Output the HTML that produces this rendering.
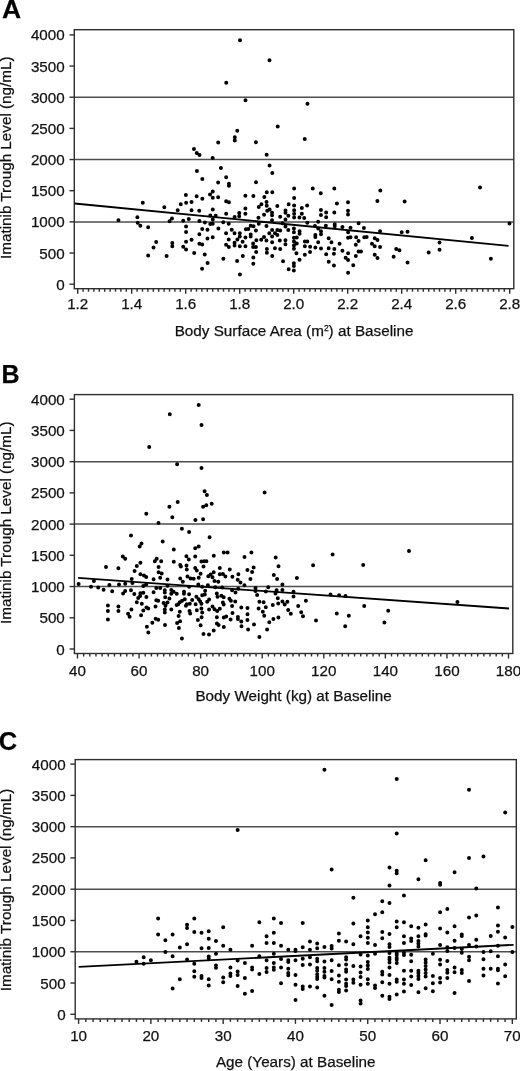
<!DOCTYPE html>
<html><head><meta charset="utf-8"><style>
html,body{margin:0;padding:0;background:#fff;width:520px;height:1071px;overflow:hidden}
svg{display:block;will-change:transform}
text{font-family:"Liberation Sans",sans-serif;font-size:15.25px;fill:#111;stroke:#111;stroke-width:0.25}
.t{font-size:15.2px}
.L{font-weight:bold;font-size:24.5px;fill:#000}
.a{stroke:#2e2e2e;stroke-width:1.4;fill:none}
.g{stroke:#4d4d4d;stroke-width:1.5}
.r{stroke:#000;stroke-width:1.8}
.d{fill:#000}
</style></head><body>
<svg width="520" height="1071" viewBox="0 0 520 1071">
<line x1="74.3" y1="221.88" x2="513.8" y2="221.88" class="g"/>
<line x1="74.3" y1="159.55" x2="513.8" y2="159.55" class="g"/>
<line x1="74.3" y1="97.22" x2="513.8" y2="97.22" class="g"/>
<line x1="69.5" y1="284.2" x2="74.3" y2="284.2" class="a"/>
<text x="64.7" y="289.7" text-anchor="end" class="t">0</text>
<line x1="69.5" y1="253.04" x2="74.3" y2="253.04" class="a"/>
<text x="64.7" y="258.54" text-anchor="end" class="t">500</text>
<line x1="69.5" y1="221.88" x2="74.3" y2="221.88" class="a"/>
<text x="64.7" y="227.38" text-anchor="end" class="t">1000</text>
<line x1="69.5" y1="190.71" x2="74.3" y2="190.71" class="a"/>
<text x="64.7" y="196.21" text-anchor="end" class="t">1500</text>
<line x1="69.5" y1="159.55" x2="74.3" y2="159.55" class="a"/>
<text x="64.7" y="165.05" text-anchor="end" class="t">2000</text>
<line x1="69.5" y1="128.39" x2="74.3" y2="128.39" class="a"/>
<text x="64.7" y="133.89" text-anchor="end" class="t">2500</text>
<line x1="69.5" y1="97.22" x2="74.3" y2="97.22" class="a"/>
<text x="64.7" y="102.72" text-anchor="end" class="t">3000</text>
<line x1="69.5" y1="66.06" x2="74.3" y2="66.06" class="a"/>
<text x="64.7" y="71.56" text-anchor="end" class="t">3500</text>
<line x1="69.5" y1="34.9" x2="74.3" y2="34.9" class="a"/>
<text x="64.7" y="40.4" text-anchor="end" class="t">4000</text>
<line x1="77.7" y1="288.7" x2="77.7" y2="293.7" class="a"/>
<line x1="83.1" y1="288.7" x2="83.1" y2="291.7" class="a"/>
<line x1="88.5" y1="288.7" x2="88.5" y2="291.7" class="a"/>
<line x1="93.9" y1="288.7" x2="93.9" y2="291.7" class="a"/>
<line x1="99.3" y1="288.7" x2="99.3" y2="291.7" class="a"/>
<line x1="104.7" y1="288.7" x2="104.7" y2="291.7" class="a"/>
<line x1="110.1" y1="288.7" x2="110.1" y2="291.7" class="a"/>
<line x1="115.5" y1="288.7" x2="115.5" y2="291.7" class="a"/>
<line x1="120.9" y1="288.7" x2="120.9" y2="291.7" class="a"/>
<line x1="126.3" y1="288.7" x2="126.3" y2="291.7" class="a"/>
<line x1="131.7" y1="288.7" x2="131.7" y2="293.7" class="a"/>
<line x1="137.1" y1="288.7" x2="137.1" y2="291.7" class="a"/>
<line x1="142.5" y1="288.7" x2="142.5" y2="291.7" class="a"/>
<line x1="147.9" y1="288.7" x2="147.9" y2="291.7" class="a"/>
<line x1="153.3" y1="288.7" x2="153.3" y2="291.7" class="a"/>
<line x1="158.7" y1="288.7" x2="158.7" y2="291.7" class="a"/>
<line x1="164.1" y1="288.7" x2="164.1" y2="291.7" class="a"/>
<line x1="169.5" y1="288.7" x2="169.5" y2="291.7" class="a"/>
<line x1="174.9" y1="288.7" x2="174.9" y2="291.7" class="a"/>
<line x1="180.3" y1="288.7" x2="180.3" y2="291.7" class="a"/>
<line x1="185.7" y1="288.7" x2="185.7" y2="293.7" class="a"/>
<line x1="191.1" y1="288.7" x2="191.1" y2="291.7" class="a"/>
<line x1="196.5" y1="288.7" x2="196.5" y2="291.7" class="a"/>
<line x1="201.9" y1="288.7" x2="201.9" y2="291.7" class="a"/>
<line x1="207.3" y1="288.7" x2="207.3" y2="291.7" class="a"/>
<line x1="212.7" y1="288.7" x2="212.7" y2="291.7" class="a"/>
<line x1="218.1" y1="288.7" x2="218.1" y2="291.7" class="a"/>
<line x1="223.5" y1="288.7" x2="223.5" y2="291.7" class="a"/>
<line x1="228.9" y1="288.7" x2="228.9" y2="291.7" class="a"/>
<line x1="234.3" y1="288.7" x2="234.3" y2="291.7" class="a"/>
<line x1="239.7" y1="288.7" x2="239.7" y2="293.7" class="a"/>
<line x1="245.1" y1="288.7" x2="245.1" y2="291.7" class="a"/>
<line x1="250.5" y1="288.7" x2="250.5" y2="291.7" class="a"/>
<line x1="255.9" y1="288.7" x2="255.9" y2="291.7" class="a"/>
<line x1="261.3" y1="288.7" x2="261.3" y2="291.7" class="a"/>
<line x1="266.7" y1="288.7" x2="266.7" y2="291.7" class="a"/>
<line x1="272.1" y1="288.7" x2="272.1" y2="291.7" class="a"/>
<line x1="277.5" y1="288.7" x2="277.5" y2="291.7" class="a"/>
<line x1="282.9" y1="288.7" x2="282.9" y2="291.7" class="a"/>
<line x1="288.3" y1="288.7" x2="288.3" y2="291.7" class="a"/>
<line x1="293.7" y1="288.7" x2="293.7" y2="293.7" class="a"/>
<line x1="299.1" y1="288.7" x2="299.1" y2="291.7" class="a"/>
<line x1="304.5" y1="288.7" x2="304.5" y2="291.7" class="a"/>
<line x1="309.9" y1="288.7" x2="309.9" y2="291.7" class="a"/>
<line x1="315.3" y1="288.7" x2="315.3" y2="291.7" class="a"/>
<line x1="320.7" y1="288.7" x2="320.7" y2="291.7" class="a"/>
<line x1="326.1" y1="288.7" x2="326.1" y2="291.7" class="a"/>
<line x1="331.5" y1="288.7" x2="331.5" y2="291.7" class="a"/>
<line x1="336.9" y1="288.7" x2="336.9" y2="291.7" class="a"/>
<line x1="342.3" y1="288.7" x2="342.3" y2="291.7" class="a"/>
<line x1="347.7" y1="288.7" x2="347.7" y2="293.7" class="a"/>
<line x1="353.1" y1="288.7" x2="353.1" y2="291.7" class="a"/>
<line x1="358.5" y1="288.7" x2="358.5" y2="291.7" class="a"/>
<line x1="363.9" y1="288.7" x2="363.9" y2="291.7" class="a"/>
<line x1="369.3" y1="288.7" x2="369.3" y2="291.7" class="a"/>
<line x1="374.7" y1="288.7" x2="374.7" y2="291.7" class="a"/>
<line x1="380.1" y1="288.7" x2="380.1" y2="291.7" class="a"/>
<line x1="385.5" y1="288.7" x2="385.5" y2="291.7" class="a"/>
<line x1="390.9" y1="288.7" x2="390.9" y2="291.7" class="a"/>
<line x1="396.3" y1="288.7" x2="396.3" y2="291.7" class="a"/>
<line x1="401.7" y1="288.7" x2="401.7" y2="293.7" class="a"/>
<line x1="407.1" y1="288.7" x2="407.1" y2="291.7" class="a"/>
<line x1="412.5" y1="288.7" x2="412.5" y2="291.7" class="a"/>
<line x1="417.9" y1="288.7" x2="417.9" y2="291.7" class="a"/>
<line x1="423.3" y1="288.7" x2="423.3" y2="291.7" class="a"/>
<line x1="428.7" y1="288.7" x2="428.7" y2="291.7" class="a"/>
<line x1="434.1" y1="288.7" x2="434.1" y2="291.7" class="a"/>
<line x1="439.5" y1="288.7" x2="439.5" y2="291.7" class="a"/>
<line x1="444.9" y1="288.7" x2="444.9" y2="291.7" class="a"/>
<line x1="450.3" y1="288.7" x2="450.3" y2="291.7" class="a"/>
<line x1="455.7" y1="288.7" x2="455.7" y2="293.7" class="a"/>
<line x1="461.1" y1="288.7" x2="461.1" y2="291.7" class="a"/>
<line x1="466.5" y1="288.7" x2="466.5" y2="291.7" class="a"/>
<line x1="471.9" y1="288.7" x2="471.9" y2="291.7" class="a"/>
<line x1="477.3" y1="288.7" x2="477.3" y2="291.7" class="a"/>
<line x1="482.7" y1="288.7" x2="482.7" y2="291.7" class="a"/>
<line x1="488.1" y1="288.7" x2="488.1" y2="291.7" class="a"/>
<line x1="493.5" y1="288.7" x2="493.5" y2="291.7" class="a"/>
<line x1="498.9" y1="288.7" x2="498.9" y2="291.7" class="a"/>
<line x1="504.3" y1="288.7" x2="504.3" y2="291.7" class="a"/>
<line x1="509.7" y1="288.7" x2="509.7" y2="293.7" class="a"/>
<text x="77.7" y="309" text-anchor="middle" class="t">1.2</text>
<text x="131.7" y="309" text-anchor="middle" class="t">1.4</text>
<text x="185.7" y="309" text-anchor="middle" class="t">1.6</text>
<text x="239.7" y="309" text-anchor="middle" class="t">1.8</text>
<text x="293.7" y="309" text-anchor="middle" class="t">2.0</text>
<text x="347.7" y="309" text-anchor="middle" class="t">2.2</text>
<text x="401.7" y="309" text-anchor="middle" class="t">2.4</text>
<text x="455.7" y="309" text-anchor="middle" class="t">2.6</text>
<text x="509.7" y="309" text-anchor="middle" class="t">2.8</text>
<rect x="74.3" y="29.7" width="439.5" height="259" class="a" fill="none"/>
<text x="294.05" y="335.8" text-anchor="middle">Body Surface Area (m<tspan font-size="8.5" dy="-4.6">2</tspan><tspan dy="4.6">)</tspan> at Baseline</text>
<text transform="translate(11,157.7) rotate(-90)" text-anchor="middle">Imatinib Trough Level (ng/mL)</text>
<text x="2" y="17.7" class="L" style="font-size:26.5px">A</text>
<line x1="74.6" y1="203.5" x2="508.5" y2="245.8" class="r"/>
<path d="M238 40.25a2 2 0 1 0 4 0a2 2 0 1 0-4 0M267.5 60.25a2 2 0 1 0 4 0a2 2 0 1 0-4 0M224.25 82.75a2 2 0 1 0 4 0a2 2 0 1 0-4 0M243.5 100.25a2 2 0 1 0 4 0a2 2 0 1 0-4 0M305.5 103.75a2 2 0 1 0 4 0a2 2 0 1 0-4 0M235.23 130.77a2 2 0 1 0 4 0a2 2 0 1 0-4 0M275.73 126.62a2 2 0 1 0 4 0a2 2 0 1 0-4 0M232.81 137.35a2 2 0 1 0 4 0a2 2 0 1 0-4 0M232.81 140.46a2 2 0 1 0 4 0a2 2 0 1 0-4 0M216.19 142.54a2 2 0 1 0 4 0a2 2 0 1 0-4 0M253.92 142.19a2 2 0 1 0 4 0a2 2 0 1 0-4 0M302.73 139.08a2 2 0 1 0 4 0a2 2 0 1 0-4 0M191.96 149.12a2 2 0 1 0 4 0a2 2 0 1 0-4 0M194.73 152.92a2 2 0 1 0 4 0a2 2 0 1 0-4 0M197.5 155a2 2 0 1 0 4 0a2 2 0 1 0-4 0M210.65 158.12a2 2 0 1 0 4 0a2 2 0 1 0-4 0M264.65 154.65a2 2 0 1 0 4 0a2 2 0 1 0-4 0M140.77 202.77a2 2 0 1 0 4 0a2 2 0 1 0-4 0M162.31 207.23a2 2 0 1 0 4 0a2 2 0 1 0-4 0M175.69 210.15a2 2 0 1 0 4 0a2 2 0 1 0-4 0M135.38 217.23a2 2 0 1 0 4 0a2 2 0 1 0-4 0M170 218.46a2 2 0 1 0 4 0a2 2 0 1 0-4 0M194.92 171.08a2 2 0 1 0 4 0a2 2 0 1 0-4 0M218.92 168a2 2 0 1 0 4 0a2 2 0 1 0-4 0M200.31 179.08a2 2 0 1 0 4 0a2 2 0 1 0-4 0M224.15 177.23a2 2 0 1 0 4 0a2 2 0 1 0-4 0M216.15 182.46a2 2 0 1 0 4 0a2 2 0 1 0-4 0M226.92 183.69a2 2 0 1 0 4 0a2 2 0 1 0-4 0M226.92 185.69a2 2 0 1 0 4 0a2 2 0 1 0-4 0M254 182.31a2 2 0 1 0 4 0a2 2 0 1 0-4 0M183.85 195.08a2 2 0 1 0 4 0a2 2 0 1 0-4 0M194.62 196.15a2 2 0 1 0 4 0a2 2 0 1 0-4 0M200.31 198.77a2 2 0 1 0 4 0a2 2 0 1 0-4 0M210.77 191.54a2 2 0 1 0 4 0a2 2 0 1 0-4 0M208 194.62a2 2 0 1 0 4 0a2 2 0 1 0-4 0M210.77 197.69a2 2 0 1 0 4 0a2 2 0 1 0-4 0M216.15 197.23a2 2 0 1 0 4 0a2 2 0 1 0-4 0M243.38 195.69a2 2 0 1 0 4 0a2 2 0 1 0-4 0M251.38 196a2 2 0 1 0 4 0a2 2 0 1 0-4 0M178.77 204.31a2 2 0 1 0 4 0a2 2 0 1 0-4 0M184.15 202.77a2 2 0 1 0 4 0a2 2 0 1 0-4 0M189.54 202a2 2 0 1 0 4 0a2 2 0 1 0-4 0M224.15 201.23a2 2 0 1 0 4 0a2 2 0 1 0-4 0M226.92 202.31a2 2 0 1 0 4 0a2 2 0 1 0-4 0M256.77 206.92a2 2 0 1 0 4 0a2 2 0 1 0-4 0M189.54 210.15a2 2 0 1 0 4 0a2 2 0 1 0-4 0M197.23 210.77a2 2 0 1 0 4 0a2 2 0 1 0-4 0M210.77 209.54a2 2 0 1 0 4 0a2 2 0 1 0-4 0M243.38 208.46a2 2 0 1 0 4 0a2 2 0 1 0-4 0M224.15 213.85a2 2 0 1 0 4 0a2 2 0 1 0-4 0M243.38 213.85a2 2 0 1 0 4 0a2 2 0 1 0-4 0M237.23 213.08a2 2 0 1 0 4 0a2 2 0 1 0-4 0M237.23 216.15a2 2 0 1 0 4 0a2 2 0 1 0-4 0M232.62 216.92a2 2 0 1 0 4 0a2 2 0 1 0-4 0M208.31 215.38a2 2 0 1 0 4 0a2 2 0 1 0-4 0M213.69 215.69a2 2 0 1 0 4 0a2 2 0 1 0-4 0M256.46 217.69a2 2 0 1 0 4 0a2 2 0 1 0-4 0M186.77 218.92a2 2 0 1 0 4 0a2 2 0 1 0-4 0M210.77 219.38a2 2 0 1 0 4 0a2 2 0 1 0-4 0M267.54 165.54a2 2 0 1 0 4 0a2 2 0 1 0-4 0M270.31 172.92a2 2 0 1 0 4 0a2 2 0 1 0-4 0M292.15 188.62a2 2 0 1 0 4 0a2 2 0 1 0-4 0M310.77 188.62a2 2 0 1 0 4 0a2 2 0 1 0-4 0M332.31 188.62a2 2 0 1 0 4 0a2 2 0 1 0-4 0M264.77 192.31a2 2 0 1 0 4 0a2 2 0 1 0-4 0M270.31 192.31a2 2 0 1 0 4 0a2 2 0 1 0-4 0M318.77 193.23a2 2 0 1 0 4 0a2 2 0 1 0-4 0M318.92 210a2 2 0 1 0 4 0a2 2 0 1 0-4 0M324.15 212.62a2 2 0 1 0 4 0a2 2 0 1 0-4 0M332.31 212.62a2 2 0 1 0 4 0a2 2 0 1 0-4 0M318.92 215.08a2 2 0 1 0 4 0a2 2 0 1 0-4 0M324.15 217.23a2 2 0 1 0 4 0a2 2 0 1 0-4 0M334.92 203.38a2 2 0 1 0 4 0a2 2 0 1 0-4 0M262.33 197.12a2 2 0 1 0 4 0a2 2 0 1 0-4 0M292.13 197.88a2 2 0 1 0 4 0a2 2 0 1 0-4 0M259.44 204.13a2 2 0 1 0 4 0a2 2 0 1 0-4 0M264.54 201.92a2 2 0 1 0 4 0a2 2 0 1 0-4 0M264.73 205.77a2 2 0 1 0 4 0a2 2 0 1 0-4 0M275.31 206.06a2 2 0 1 0 4 0a2 2 0 1 0-4 0M286.65 204.13a2 2 0 1 0 4 0a2 2 0 1 0-4 0M292.13 205.58a2 2 0 1 0 4 0a2 2 0 1 0-4 0M305.12 205.58a2 2 0 1 0 4 0a2 2 0 1 0-4 0M299.83 207.98a2 2 0 1 0 4 0a2 2 0 1 0-4 0M265.21 210.87a2 2 0 1 0 4 0a2 2 0 1 0-4 0M267.62 209.62a2 2 0 1 0 4 0a2 2 0 1 0-4 0M283.48 210.38a2 2 0 1 0 4 0a2 2 0 1 0-4 0M283.48 212.79a2 2 0 1 0 4 0a2 2 0 1 0-4 0M292.13 210.19a2 2 0 1 0 4 0a2 2 0 1 0-4 0M292.13 213.75a2 2 0 1 0 4 0a2 2 0 1 0-4 0M292.13 217.6a2 2 0 1 0 4 0a2 2 0 1 0-4 0M270.02 212.79a2 2 0 1 0 4 0a2 2 0 1 0-4 0M270.02 215.19a2 2 0 1 0 4 0a2 2 0 1 0-4 0M262.04 214.71a2 2 0 1 0 4 0a2 2 0 1 0-4 0M278.19 216.63a2 2 0 1 0 4 0a2 2 0 1 0-4 0M286.37 215.67a2 2 0 1 0 4 0a2 2 0 1 0-4 0M299.83 213.75a2 2 0 1 0 4 0a2 2 0 1 0-4 0M297.42 217.6a2 2 0 1 0 4 0a2 2 0 1 0-4 0M302.23 218.08a2 2 0 1 0 4 0a2 2 0 1 0-4 0M283.48 219.52a2 2 0 1 0 4 0a2 2 0 1 0-4 0M270.02 220.19a2 2 0 1 0 4 0a2 2 0 1 0-4 0M378.31 190.46a2 2 0 1 0 4 0a2 2 0 1 0-4 0M375.38 201.08a2 2 0 1 0 4 0a2 2 0 1 0-4 0M402.62 201.54a2 2 0 1 0 4 0a2 2 0 1 0-4 0M346 202.31a2 2 0 1 0 4 0a2 2 0 1 0-4 0M346 210.77a2 2 0 1 0 4 0a2 2 0 1 0-4 0M346 214.62a2 2 0 1 0 4 0a2 2 0 1 0-4 0M478.02 187.48a2 2 0 1 0 4 0a2 2 0 1 0-4 0M116.46 220.31a2 2 0 1 0 4 0a2 2 0 1 0-4 0M167.54 221.23a2 2 0 1 0 4 0a2 2 0 1 0-4 0M135.69 222.77a2 2 0 1 0 4 0a2 2 0 1 0-4 0M138.31 225.85a2 2 0 1 0 4 0a2 2 0 1 0-4 0M146.15 227.23a2 2 0 1 0 4 0a2 2 0 1 0-4 0M154.15 242a2 2 0 1 0 4 0a2 2 0 1 0-4 0M151.54 247.38a2 2 0 1 0 4 0a2 2 0 1 0-4 0M170.31 243.08a2 2 0 1 0 4 0a2 2 0 1 0-4 0M170.31 246.15a2 2 0 1 0 4 0a2 2 0 1 0-4 0M146.15 255.38a2 2 0 1 0 4 0a2 2 0 1 0-4 0M164.62 256a2 2 0 1 0 4 0a2 2 0 1 0-4 0M181.23 220.85a2 2 0 1 0 4 0a2 2 0 1 0-4 0M197.38 221.01a2 2 0 1 0 4 0a2 2 0 1 0-4 0M202.88 222.46a2 2 0 1 0 4 0a2 2 0 1 0-4 0M208.29 223.92a2 2 0 1 0 4 0a2 2 0 1 0-4 0M210.71 223.67a2 2 0 1 0 4 0a2 2 0 1 0-4 0M184.06 226.5a2 2 0 1 0 4 0a2 2 0 1 0-4 0M184.06 231.99a2 2 0 1 0 4 0a2 2 0 1 0-4 0M200.21 229.08a2 2 0 1 0 4 0a2 2 0 1 0-4 0M205.46 229.73a2 2 0 1 0 4 0a2 2 0 1 0-4 0M216.37 228.52a2 2 0 1 0 4 0a2 2 0 1 0-4 0M197.38 234.17a2 2 0 1 0 4 0a2 2 0 1 0-4 0M205.46 238.45a2 2 0 1 0 4 0a2 2 0 1 0-4 0M210.71 237.16a2 2 0 1 0 4 0a2 2 0 1 0-4 0M189.55 239.83a2 2 0 1 0 4 0a2 2 0 1 0-4 0M184.06 241.85a2 2 0 1 0 4 0a2 2 0 1 0-4 0M197.38 243.87a2 2 0 1 0 4 0a2 2 0 1 0-4 0M200.21 244.43a2 2 0 1 0 4 0a2 2 0 1 0-4 0M181.23 246.85a2 2 0 1 0 4 0a2 2 0 1 0-4 0M184.06 249.52a2 2 0 1 0 4 0a2 2 0 1 0-4 0M221.23 222.3a2 2 0 1 0 4 0a2 2 0 1 0-4 0M226.72 223.67a2 2 0 1 0 4 0a2 2 0 1 0-4 0M229.71 229.73a2 2 0 1 0 4 0a2 2 0 1 0-4 0M243.85 229.33a2 2 0 1 0 4 0a2 2 0 1 0-4 0M246.27 228.92a2 2 0 1 0 4 0a2 2 0 1 0-4 0M248.69 225.69a2 2 0 1 0 4 0a2 2 0 1 0-4 0M251.52 226.34a2 2 0 1 0 4 0a2 2 0 1 0-4 0M256.77 223.67a2 2 0 1 0 4 0a2 2 0 1 0-4 0M253.94 230.54a2 2 0 1 0 4 0a2 2 0 1 0-4 0M224.06 233.37a2 2 0 1 0 4 0a2 2 0 1 0-4 0M232.54 233.37a2 2 0 1 0 4 0a2 2 0 1 0-4 0M237.79 233.37a2 2 0 1 0 4 0a2 2 0 1 0-4 0M237.79 236.6a2 2 0 1 0 4 0a2 2 0 1 0-4 0M243.44 237.4a2 2 0 1 0 4 0a2 2 0 1 0-4 0M248.69 234.58a2 2 0 1 0 4 0a2 2 0 1 0-4 0M248.69 236.6a2 2 0 1 0 4 0a2 2 0 1 0-4 0M226.72 239.42a2 2 0 1 0 4 0a2 2 0 1 0-4 0M235.37 239.42a2 2 0 1 0 4 0a2 2 0 1 0-4 0M240.62 241.68a2 2 0 1 0 4 0a2 2 0 1 0-4 0M254.35 240.23a2 2 0 1 0 4 0a2 2 0 1 0-4 0M259.19 239.83a2 2 0 1 0 4 0a2 2 0 1 0-4 0M232.54 242.65a2 2 0 1 0 4 0a2 2 0 1 0-4 0M232.54 245.48a2 2 0 1 0 4 0a2 2 0 1 0-4 0M224.06 244.67a2 2 0 1 0 4 0a2 2 0 1 0-4 0M226.88 247.1a2 2 0 1 0 4 0a2 2 0 1 0-4 0M237.79 246.29a2 2 0 1 0 4 0a2 2 0 1 0-4 0M243.44 246.29a2 2 0 1 0 4 0a2 2 0 1 0-4 0M251.12 243.46a2 2 0 1 0 4 0a2 2 0 1 0-4 0M251.12 247.1a2 2 0 1 0 4 0a2 2 0 1 0-4 0M253.94 247.1a2 2 0 1 0 4 0a2 2 0 1 0-4 0M192.19 253.05a2 2 0 1 0 4 0a2 2 0 1 0-4 0M202.76 254.62a2 2 0 1 0 4 0a2 2 0 1 0-4 0M205.6 262.98a2 2 0 1 0 4 0a2 2 0 1 0-4 0M200.08 268.82a2 2 0 1 0 4 0a2 2 0 1 0-4 0M221.37 258.72a2 2 0 1 0 4 0a2 2 0 1 0-4 0M235.08 260.93a2 2 0 1 0 4 0a2 2 0 1 0-4 0M240.76 255.88a2 2 0 1 0 4 0a2 2 0 1 0-4 0M251.33 257.46a2 2 0 1 0 4 0a2 2 0 1 0-4 0M251.33 263.77a2 2 0 1 0 4 0a2 2 0 1 0-4 0M254.17 251.94a2 2 0 1 0 4 0a2 2 0 1 0-4 0M237.92 274.49a2 2 0 1 0 4 0a2 2 0 1 0-4 0M280.62 223.25a2 2 0 1 0 4 0a2 2 0 1 0-4 0M283.44 226.48a2 2 0 1 0 4 0a2 2 0 1 0-4 0M264.46 226.08a2 2 0 1 0 4 0a2 2 0 1 0-4 0M270.12 230.12a2 2 0 1 0 4 0a2 2 0 1 0-4 0M275.37 230.12a2 2 0 1 0 4 0a2 2 0 1 0-4 0M278.19 230.52a2 2 0 1 0 4 0a2 2 0 1 0-4 0M286.27 230.12a2 2 0 1 0 4 0a2 2 0 1 0-4 0M291.92 228.5a2 2 0 1 0 4 0a2 2 0 1 0-4 0M291.92 232.13a2 2 0 1 0 4 0a2 2 0 1 0-4 0M297.58 231.33a2 2 0 1 0 4 0a2 2 0 1 0-4 0M297.58 233.75a2 2 0 1 0 4 0a2 2 0 1 0-4 0M267.29 233.35a2 2 0 1 0 4 0a2 2 0 1 0-4 0M272.94 233.35a2 2 0 1 0 4 0a2 2 0 1 0-4 0M275.37 234.96a2 2 0 1 0 4 0a2 2 0 1 0-4 0M270.12 236.42a2 2 0 1 0 4 0a2 2 0 1 0-4 0M262.04 236.98a2 2 0 1 0 4 0a2 2 0 1 0-4 0M259.21 239.81a2 2 0 1 0 4 0a2 2 0 1 0-4 0M264.46 240.62a2 2 0 1 0 4 0a2 2 0 1 0-4 0M270.12 242.23a2 2 0 1 0 4 0a2 2 0 1 0-4 0M277.79 240.62a2 2 0 1 0 4 0a2 2 0 1 0-4 0M283.44 240.21a2 2 0 1 0 4 0a2 2 0 1 0-4 0M283.44 244.25a2 2 0 1 0 4 0a2 2 0 1 0-4 0M291.92 237.79a2 2 0 1 0 4 0a2 2 0 1 0-4 0M294.75 237.38a2 2 0 1 0 4 0a2 2 0 1 0-4 0M291.92 241.42a2 2 0 1 0 4 0a2 2 0 1 0-4 0M294.75 243.44a2 2 0 1 0 4 0a2 2 0 1 0-4 0M291.92 245.46a2 2 0 1 0 4 0a2 2 0 1 0-4 0M291.92 248.69a2 2 0 1 0 4 0a2 2 0 1 0-4 0M264.87 249.1a2 2 0 1 0 4 0a2 2 0 1 0-4 0M272.94 248.29a2 2 0 1 0 4 0a2 2 0 1 0-4 0M278.19 249.1a2 2 0 1 0 4 0a2 2 0 1 0-4 0M316.17 221.63a2 2 0 1 0 4 0a2 2 0 1 0-4 0M305.27 222.85a2 2 0 1 0 4 0a2 2 0 1 0-4 0M312.94 226.08a2 2 0 1 0 4 0a2 2 0 1 0-4 0M316.17 228.5a2 2 0 1 0 4 0a2 2 0 1 0-4 0M323.85 225.67a2 2 0 1 0 4 0a2 2 0 1 0-4 0M332.73 224.3a2 2 0 1 0 4 0a2 2 0 1 0-4 0M332.73 226.24a2 2 0 1 0 4 0a2 2 0 1 0-4 0M319 231.33a2 2 0 1 0 4 0a2 2 0 1 0-4 0M319 234.15a2 2 0 1 0 4 0a2 2 0 1 0-4 0M313.35 234.96a2 2 0 1 0 4 0a2 2 0 1 0-4 0M313.35 236.98a2 2 0 1 0 4 0a2 2 0 1 0-4 0M326.67 238.35a2 2 0 1 0 4 0a2 2 0 1 0-4 0M302.85 241.42a2 2 0 1 0 4 0a2 2 0 1 0-4 0M305.27 241.42a2 2 0 1 0 4 0a2 2 0 1 0-4 0M316.17 242.23a2 2 0 1 0 4 0a2 2 0 1 0-4 0M329.5 242.23a2 2 0 1 0 4 0a2 2 0 1 0-4 0M337.58 243.85a2 2 0 1 0 4 0a2 2 0 1 0-4 0M302.85 246.27a2 2 0 1 0 4 0a2 2 0 1 0-4 0M308.1 246.67a2 2 0 1 0 4 0a2 2 0 1 0-4 0M313.35 247.48a2 2 0 1 0 4 0a2 2 0 1 0-4 0M319 248.53a2 2 0 1 0 4 0a2 2 0 1 0-4 0M326.67 248.29a2 2 0 1 0 4 0a2 2 0 1 0-4 0M332.33 249.1a2 2 0 1 0 4 0a2 2 0 1 0-4 0M264.88 252.85a2 2 0 1 0 4 0a2 2 0 1 0-4 0M270.22 256.08a2 2 0 1 0 4 0a2 2 0 1 0-4 0M281.04 261.25a2 2 0 1 0 4 0a2 2 0 1 0-4 0M294.45 253.17a2 2 0 1 0 4 0a2 2 0 1 0-4 0M291.86 263.35a2 2 0 1 0 4 0a2 2 0 1 0-4 0M291.86 266.09a2 2 0 1 0 4 0a2 2 0 1 0-4 0M286.69 269.32a2 2 0 1 0 4 0a2 2 0 1 0-4 0M291.86 270.62a2 2 0 1 0 4 0a2 2 0 1 0-4 0M297.52 259.79a2 2 0 1 0 4 0a2 2 0 1 0-4 0M302.85 254.78a2 2 0 1 0 4 0a2 2 0 1 0-4 0M308.02 252.04a2 2 0 1 0 4 0a2 2 0 1 0-4 0M324.17 254.14a2 2 0 1 0 4 0a2 2 0 1 0-4 0M331.92 253.65a2 2 0 1 0 4 0a2 2 0 1 0-4 0M326.75 261.73a2 2 0 1 0 4 0a2 2 0 1 0-4 0M331.92 265.45a2 2 0 1 0 4 0a2 2 0 1 0-4 0M356.58 223.27a2 2 0 1 0 4 0a2 2 0 1 0-4 0M340.42 226.98a2 2 0 1 0 4 0a2 2 0 1 0-4 0M348.5 227.63a2 2 0 1 0 4 0a2 2 0 1 0-4 0M346.08 232.15a2 2 0 1 0 4 0a2 2 0 1 0-4 0M361.91 228.12a2 2 0 1 0 4 0a2 2 0 1 0-4 0M378.06 231.35a2 2 0 1 0 4 0a2 2 0 1 0-4 0M399.71 232.15a2 2 0 1 0 4 0a2 2 0 1 0-4 0M405.52 231.83a2 2 0 1 0 4 0a2 2 0 1 0-4 0M346.08 237.81a2 2 0 1 0 4 0a2 2 0 1 0-4 0M348.5 237.32a2 2 0 1 0 4 0a2 2 0 1 0-4 0M354.15 237.32a2 2 0 1 0 4 0a2 2 0 1 0-4 0M356.58 241.04a2 2 0 1 0 4 0a2 2 0 1 0-4 0M362.23 237.32a2 2 0 1 0 4 0a2 2 0 1 0-4 0M364.65 237a2 2 0 1 0 4 0a2 2 0 1 0-4 0M372.73 238.29a2 2 0 1 0 4 0a2 2 0 1 0-4 0M375.48 239.91a2 2 0 1 0 4 0a2 2 0 1 0-4 0M353.83 244.75a2 2 0 1 0 4 0a2 2 0 1 0-4 0M369.98 243.78a2 2 0 1 0 4 0a2 2 0 1 0-4 0M372.73 246.37a2 2 0 1 0 4 0a2 2 0 1 0-4 0M378.06 247.02a2 2 0 1 0 4 0a2 2 0 1 0-4 0M340.42 250.73a2 2 0 1 0 4 0a2 2 0 1 0-4 0M346.08 253.15a2 2 0 1 0 4 0a2 2 0 1 0-4 0M356.58 251.54a2 2 0 1 0 4 0a2 2 0 1 0-4 0M359 251.54a2 2 0 1 0 4 0a2 2 0 1 0-4 0M343.65 257.68a2 2 0 1 0 4 0a2 2 0 1 0-4 0M346.08 259.94a2 2 0 1 0 4 0a2 2 0 1 0-4 0M353.83 256.06a2 2 0 1 0 4 0a2 2 0 1 0-4 0M372.73 254.77a2 2 0 1 0 4 0a2 2 0 1 0-4 0M375.48 258a2 2 0 1 0 4 0a2 2 0 1 0-4 0M394.22 249.12a2 2 0 1 0 4 0a2 2 0 1 0-4 0M397.45 250.25a2 2 0 1 0 4 0a2 2 0 1 0-4 0M391.63 256.87a2 2 0 1 0 4 0a2 2 0 1 0-4 0M405.52 262.52a2 2 0 1 0 4 0a2 2 0 1 0-4 0M351.25 265.27a2 2 0 1 0 4 0a2 2 0 1 0-4 0M346.08 272.86a2 2 0 1 0 4 0a2 2 0 1 0-4 0M507.48 223.59a2 2 0 1 0 4 0a2 2 0 1 0-4 0M469.88 238.05a2 2 0 1 0 4 0a2 2 0 1 0-4 0M437.52 242.57a2 2 0 1 0 4 0a2 2 0 1 0-4 0M437.52 249.8a2 2 0 1 0 4 0a2 2 0 1 0-4 0M426.68 252.52a2 2 0 1 0 4 0a2 2 0 1 0-4 0M488.86 258.84a2 2 0 1 0 4 0a2 2 0 1 0-4 0" class="d"/>
<line x1="74.4" y1="586.55" x2="512.8" y2="586.55" class="g"/>
<line x1="74.4" y1="524.1" x2="512.8" y2="524.1" class="g"/>
<line x1="74.4" y1="461.65" x2="512.8" y2="461.65" class="g"/>
<line x1="69.6" y1="649" x2="74.4" y2="649" class="a"/>
<text x="64.8" y="654.5" text-anchor="end" class="t">0</text>
<line x1="69.6" y1="617.77" x2="74.4" y2="617.77" class="a"/>
<text x="64.8" y="623.27" text-anchor="end" class="t">500</text>
<line x1="69.6" y1="586.55" x2="74.4" y2="586.55" class="a"/>
<text x="64.8" y="592.05" text-anchor="end" class="t">1000</text>
<line x1="69.6" y1="555.33" x2="74.4" y2="555.33" class="a"/>
<text x="64.8" y="560.83" text-anchor="end" class="t">1500</text>
<line x1="69.6" y1="524.1" x2="74.4" y2="524.1" class="a"/>
<text x="64.8" y="529.6" text-anchor="end" class="t">2000</text>
<line x1="69.6" y1="492.88" x2="74.4" y2="492.88" class="a"/>
<text x="64.8" y="498.38" text-anchor="end" class="t">2500</text>
<line x1="69.6" y1="461.65" x2="74.4" y2="461.65" class="a"/>
<text x="64.8" y="467.15" text-anchor="end" class="t">3000</text>
<line x1="69.6" y1="430.42" x2="74.4" y2="430.42" class="a"/>
<text x="64.8" y="435.92" text-anchor="end" class="t">3500</text>
<line x1="69.6" y1="399.2" x2="74.4" y2="399.2" class="a"/>
<text x="64.8" y="404.7" text-anchor="end" class="t">4000</text>
<line x1="77.5" y1="653.5" x2="77.5" y2="658.5" class="a"/>
<line x1="83.66" y1="653.5" x2="83.66" y2="656.5" class="a"/>
<line x1="89.81" y1="653.5" x2="89.81" y2="656.5" class="a"/>
<line x1="95.97" y1="653.5" x2="95.97" y2="656.5" class="a"/>
<line x1="102.13" y1="653.5" x2="102.13" y2="656.5" class="a"/>
<line x1="108.29" y1="653.5" x2="108.29" y2="656.5" class="a"/>
<line x1="114.44" y1="653.5" x2="114.44" y2="656.5" class="a"/>
<line x1="120.6" y1="653.5" x2="120.6" y2="656.5" class="a"/>
<line x1="126.76" y1="653.5" x2="126.76" y2="656.5" class="a"/>
<line x1="132.91" y1="653.5" x2="132.91" y2="656.5" class="a"/>
<line x1="139.07" y1="653.5" x2="139.07" y2="658.5" class="a"/>
<line x1="145.23" y1="653.5" x2="145.23" y2="656.5" class="a"/>
<line x1="151.39" y1="653.5" x2="151.39" y2="656.5" class="a"/>
<line x1="157.54" y1="653.5" x2="157.54" y2="656.5" class="a"/>
<line x1="163.7" y1="653.5" x2="163.7" y2="656.5" class="a"/>
<line x1="169.86" y1="653.5" x2="169.86" y2="656.5" class="a"/>
<line x1="176.01" y1="653.5" x2="176.01" y2="656.5" class="a"/>
<line x1="182.17" y1="653.5" x2="182.17" y2="656.5" class="a"/>
<line x1="188.33" y1="653.5" x2="188.33" y2="656.5" class="a"/>
<line x1="194.49" y1="653.5" x2="194.49" y2="656.5" class="a"/>
<line x1="200.64" y1="653.5" x2="200.64" y2="658.5" class="a"/>
<line x1="206.8" y1="653.5" x2="206.8" y2="656.5" class="a"/>
<line x1="212.96" y1="653.5" x2="212.96" y2="656.5" class="a"/>
<line x1="219.11" y1="653.5" x2="219.11" y2="656.5" class="a"/>
<line x1="225.27" y1="653.5" x2="225.27" y2="656.5" class="a"/>
<line x1="231.43" y1="653.5" x2="231.43" y2="656.5" class="a"/>
<line x1="237.59" y1="653.5" x2="237.59" y2="656.5" class="a"/>
<line x1="243.74" y1="653.5" x2="243.74" y2="656.5" class="a"/>
<line x1="249.9" y1="653.5" x2="249.9" y2="656.5" class="a"/>
<line x1="256.06" y1="653.5" x2="256.06" y2="656.5" class="a"/>
<line x1="262.21" y1="653.5" x2="262.21" y2="658.5" class="a"/>
<line x1="268.37" y1="653.5" x2="268.37" y2="656.5" class="a"/>
<line x1="274.53" y1="653.5" x2="274.53" y2="656.5" class="a"/>
<line x1="280.69" y1="653.5" x2="280.69" y2="656.5" class="a"/>
<line x1="286.84" y1="653.5" x2="286.84" y2="656.5" class="a"/>
<line x1="293" y1="653.5" x2="293" y2="656.5" class="a"/>
<line x1="299.16" y1="653.5" x2="299.16" y2="656.5" class="a"/>
<line x1="305.31" y1="653.5" x2="305.31" y2="656.5" class="a"/>
<line x1="311.47" y1="653.5" x2="311.47" y2="656.5" class="a"/>
<line x1="317.63" y1="653.5" x2="317.63" y2="656.5" class="a"/>
<line x1="323.79" y1="653.5" x2="323.79" y2="658.5" class="a"/>
<line x1="329.94" y1="653.5" x2="329.94" y2="656.5" class="a"/>
<line x1="336.1" y1="653.5" x2="336.1" y2="656.5" class="a"/>
<line x1="342.26" y1="653.5" x2="342.26" y2="656.5" class="a"/>
<line x1="348.41" y1="653.5" x2="348.41" y2="656.5" class="a"/>
<line x1="354.57" y1="653.5" x2="354.57" y2="656.5" class="a"/>
<line x1="360.73" y1="653.5" x2="360.73" y2="656.5" class="a"/>
<line x1="366.89" y1="653.5" x2="366.89" y2="656.5" class="a"/>
<line x1="373.04" y1="653.5" x2="373.04" y2="656.5" class="a"/>
<line x1="379.2" y1="653.5" x2="379.2" y2="656.5" class="a"/>
<line x1="385.36" y1="653.5" x2="385.36" y2="658.5" class="a"/>
<line x1="391.51" y1="653.5" x2="391.51" y2="656.5" class="a"/>
<line x1="397.67" y1="653.5" x2="397.67" y2="656.5" class="a"/>
<line x1="403.83" y1="653.5" x2="403.83" y2="656.5" class="a"/>
<line x1="409.99" y1="653.5" x2="409.99" y2="656.5" class="a"/>
<line x1="416.14" y1="653.5" x2="416.14" y2="656.5" class="a"/>
<line x1="422.3" y1="653.5" x2="422.3" y2="656.5" class="a"/>
<line x1="428.46" y1="653.5" x2="428.46" y2="656.5" class="a"/>
<line x1="434.61" y1="653.5" x2="434.61" y2="656.5" class="a"/>
<line x1="440.77" y1="653.5" x2="440.77" y2="656.5" class="a"/>
<line x1="446.93" y1="653.5" x2="446.93" y2="658.5" class="a"/>
<line x1="453.09" y1="653.5" x2="453.09" y2="656.5" class="a"/>
<line x1="459.24" y1="653.5" x2="459.24" y2="656.5" class="a"/>
<line x1="465.4" y1="653.5" x2="465.4" y2="656.5" class="a"/>
<line x1="471.56" y1="653.5" x2="471.56" y2="656.5" class="a"/>
<line x1="477.71" y1="653.5" x2="477.71" y2="656.5" class="a"/>
<line x1="483.87" y1="653.5" x2="483.87" y2="656.5" class="a"/>
<line x1="490.03" y1="653.5" x2="490.03" y2="656.5" class="a"/>
<line x1="496.19" y1="653.5" x2="496.19" y2="656.5" class="a"/>
<line x1="502.34" y1="653.5" x2="502.34" y2="656.5" class="a"/>
<line x1="508.5" y1="653.5" x2="508.5" y2="658.5" class="a"/>
<text x="77.5" y="676" text-anchor="middle" class="t">40</text>
<text x="139.07" y="676" text-anchor="middle" class="t">60</text>
<text x="200.64" y="676" text-anchor="middle" class="t">80</text>
<text x="262.21" y="676" text-anchor="middle" class="t">100</text>
<text x="323.79" y="676" text-anchor="middle" class="t">120</text>
<text x="385.36" y="676" text-anchor="middle" class="t">140</text>
<text x="446.93" y="676" text-anchor="middle" class="t">160</text>
<text x="508.5" y="676" text-anchor="middle" class="t">180</text>
<rect x="74.4" y="394.6" width="438.4" height="258.9" class="a" fill="none"/>
<text x="293.6" y="701" text-anchor="middle">Body Weight (kg) at Baseline</text>
<text transform="translate(11,522.7) rotate(-90)" text-anchor="middle">Imatinib Trough Level (ng/mL)</text>
<text x="1.5" y="382.6" class="L" style="font-size:25px">B</text>
<line x1="78.1" y1="577.9" x2="509.1" y2="608.5" class="r"/>
<path d="M196.7 405a2 2 0 1 0 4 0a2 2 0 1 0-4 0M167.8 414.2a2 2 0 1 0 4 0a2 2 0 1 0-4 0M199.5 425a2 2 0 1 0 4 0a2 2 0 1 0-4 0M147.2 447.1a2 2 0 1 0 4 0a2 2 0 1 0-4 0M175.1 464.3a2 2 0 1 0 4 0a2 2 0 1 0-4 0M199.5 467.9a2 2 0 1 0 4 0a2 2 0 1 0-4 0M202.6 491.2a2 2 0 1 0 4 0a2 2 0 1 0-4 0M204.9 495a2 2 0 1 0 4 0a2 2 0 1 0-4 0M175.7 501.9a2 2 0 1 0 4 0a2 2 0 1 0-4 0M167.4 506.7a2 2 0 1 0 4 0a2 2 0 1 0-4 0M201.1 506.7a2 2 0 1 0 4 0a2 2 0 1 0-4 0M204.3 505.2a2 2 0 1 0 4 0a2 2 0 1 0-4 0M209.7 503.8a2 2 0 1 0 4 0a2 2 0 1 0-4 0M144.3 513.8a2 2 0 1 0 4 0a2 2 0 1 0-4 0M170.3 517.3a2 2 0 1 0 4 0a2 2 0 1 0-4 0M193.4 520a2 2 0 1 0 4 0a2 2 0 1 0-4 0M201.1 519.2a2 2 0 1 0 4 0a2 2 0 1 0-4 0M156.5 522.9a2 2 0 1 0 4 0a2 2 0 1 0-4 0M179.9 528.8a2 2 0 1 0 4 0a2 2 0 1 0-4 0M262.6 492.6a2 2 0 1 0 4 0a2 2 0 1 0-4 0M129 535.4a2 2 0 1 0 4 0a2 2 0 1 0-4 0M139.5 543.4a2 2 0 1 0 4 0a2 2 0 1 0-4 0M137.7 546.5a2 2 0 1 0 4 0a2 2 0 1 0-4 0M120.8 556.6a2 2 0 1 0 4 0a2 2 0 1 0-4 0M123.2 558.8a2 2 0 1 0 4 0a2 2 0 1 0-4 0M138.4 562.7a2 2 0 1 0 4 0a2 2 0 1 0-4 0M134.8 566a2 2 0 1 0 4 0a2 2 0 1 0-4 0M104 567a2 2 0 1 0 4 0a2 2 0 1 0-4 0M116.4 568.2a2 2 0 1 0 4 0a2 2 0 1 0-4 0M132.6 571.1a2 2 0 1 0 4 0a2 2 0 1 0-4 0M138.4 574.2a2 2 0 1 0 4 0a2 2 0 1 0-4 0M142 575.4a2 2 0 1 0 4 0a2 2 0 1 0-4 0M144.2 577.1a2 2 0 1 0 4 0a2 2 0 1 0-4 0M129.7 579a2 2 0 1 0 4 0a2 2 0 1 0-4 0M187.1 532.1a2 2 0 1 0 4 0a2 2 0 1 0-4 0M207.6 537.2a2 2 0 1 0 4 0a2 2 0 1 0-4 0M160.7 541.5a2 2 0 1 0 4 0a2 2 0 1 0-4 0M171.8 549.4a2 2 0 1 0 4 0a2 2 0 1 0-4 0M193.2 548.2a2 2 0 1 0 4 0a2 2 0 1 0-4 0M196.7 546.5a2 2 0 1 0 4 0a2 2 0 1 0-4 0M221.8 552.5a2 2 0 1 0 4 0a2 2 0 1 0-4 0M211.8 555.7a2 2 0 1 0 4 0a2 2 0 1 0-4 0M193.2 556.4a2 2 0 1 0 4 0a2 2 0 1 0-4 0M184.4 556.3a2 2 0 1 0 4 0a2 2 0 1 0-4 0M186.8 559.5a2 2 0 1 0 4 0a2 2 0 1 0-4 0M154.7 558.8a2 2 0 1 0 4 0a2 2 0 1 0-4 0M152.8 561.2a2 2 0 1 0 4 0a2 2 0 1 0-4 0M159.2 561.3a2 2 0 1 0 4 0a2 2 0 1 0-4 0M171.8 561.8a2 2 0 1 0 4 0a2 2 0 1 0-4 0M199.4 561.5a2 2 0 1 0 4 0a2 2 0 1 0-4 0M202.1 561.2a2 2 0 1 0 4 0a2 2 0 1 0-4 0M204.4 561.2a2 2 0 1 0 4 0a2 2 0 1 0-4 0M201.5 566.4a2 2 0 1 0 4 0a2 2 0 1 0-4 0M178.2 565a2 2 0 1 0 4 0a2 2 0 1 0-4 0M178.9 566.5a2 2 0 1 0 4 0a2 2 0 1 0-4 0M184.5 565.5a2 2 0 1 0 4 0a2 2 0 1 0-4 0M184.8 569.6a2 2 0 1 0 4 0a2 2 0 1 0-4 0M156.6 566.9a2 2 0 1 0 4 0a2 2 0 1 0-4 0M193.2 568.1a2 2 0 1 0 4 0a2 2 0 1 0-4 0M194.8 570.4a2 2 0 1 0 4 0a2 2 0 1 0-4 0M217.8 568.1a2 2 0 1 0 4 0a2 2 0 1 0-4 0M156.6 572.3a2 2 0 1 0 4 0a2 2 0 1 0-4 0M159.7 573.6a2 2 0 1 0 4 0a2 2 0 1 0-4 0M198.6 573.8a2 2 0 1 0 4 0a2 2 0 1 0-4 0M211.7 572.3a2 2 0 1 0 4 0a2 2 0 1 0-4 0M217.8 574.2a2 2 0 1 0 4 0a2 2 0 1 0-4 0M220.9 574.1a2 2 0 1 0 4 0a2 2 0 1 0-4 0M206.3 576.2a2 2 0 1 0 4 0a2 2 0 1 0-4 0M208.6 574.6a2 2 0 1 0 4 0a2 2 0 1 0-4 0M210.5 577.3a2 2 0 1 0 4 0a2 2 0 1 0-4 0M196.7 577.7a2 2 0 1 0 4 0a2 2 0 1 0-4 0M185.5 576.5a2 2 0 1 0 4 0a2 2 0 1 0-4 0M188.6 578.5a2 2 0 1 0 4 0a2 2 0 1 0-4 0M191.7 578.8a2 2 0 1 0 4 0a2 2 0 1 0-4 0M158.2 577.7a2 2 0 1 0 4 0a2 2 0 1 0-4 0M151.6 579.2a2 2 0 1 0 4 0a2 2 0 1 0-4 0M165.5 579.6a2 2 0 1 0 4 0a2 2 0 1 0-4 0M178.2 578.5a2 2 0 1 0 4 0a2 2 0 1 0-4 0M225.6 552.6a2 2 0 1 0 4 0a2 2 0 1 0-4 0M249.4 552.6a2 2 0 1 0 4 0a2 2 0 1 0-4 0M242.5 557.1a2 2 0 1 0 4 0a2 2 0 1 0-4 0M273.7 557.6a2 2 0 1 0 4 0a2 2 0 1 0-4 0M276.5 566.3a2 2 0 1 0 4 0a2 2 0 1 0-4 0M227.8 569.6a2 2 0 1 0 4 0a2 2 0 1 0-4 0M245.4 570a2 2 0 1 0 4 0a2 2 0 1 0-4 0M251.6 567.5a2 2 0 1 0 4 0a2 2 0 1 0-4 0M250.1 572.1a2 2 0 1 0 4 0a2 2 0 1 0-4 0M236.4 574.2a2 2 0 1 0 4 0a2 2 0 1 0-4 0M223.4 576.5a2 2 0 1 0 4 0a2 2 0 1 0-4 0M230.4 576.8a2 2 0 1 0 4 0a2 2 0 1 0-4 0M271.8 575a2 2 0 1 0 4 0a2 2 0 1 0-4 0M275.1 579a2 2 0 1 0 4 0a2 2 0 1 0-4 0M248.4 579a2 2 0 1 0 4 0a2 2 0 1 0-4 0M294.9 578a2 2 0 1 0 4 0a2 2 0 1 0-4 0M235.7 579.7a2 2 0 1 0 4 0a2 2 0 1 0-4 0M330.6 554.6a2 2 0 1 0 4 0a2 2 0 1 0-4 0M311.1 565.3a2 2 0 1 0 4 0a2 2 0 1 0-4 0M361.2 565a2 2 0 1 0 4 0a2 2 0 1 0-4 0M407 551.1a2 2 0 1 0 4 0a2 2 0 1 0-4 0M91.9 580.9a2 2 0 1 0 4 0a2 2 0 1 0-4 0M76.6 584.1a2 2 0 1 0 4 0a2 2 0 1 0-4 0M89 586.7a2 2 0 1 0 4 0a2 2 0 1 0-4 0M96.2 587.4a2 2 0 1 0 4 0a2 2 0 1 0-4 0M107.4 584.9a2 2 0 1 0 4 0a2 2 0 1 0-4 0M117 584.5a2 2 0 1 0 4 0a2 2 0 1 0-4 0M123.2 583.8a2 2 0 1 0 4 0a2 2 0 1 0-4 0M130.4 583.1a2 2 0 1 0 4 0a2 2 0 1 0-4 0M141.3 585.9a2 2 0 1 0 4 0a2 2 0 1 0-4 0M144.2 584.5a2 2 0 1 0 4 0a2 2 0 1 0-4 0M101.6 589.8a2 2 0 1 0 4 0a2 2 0 1 0-4 0M110.2 591.3a2 2 0 1 0 4 0a2 2 0 1 0-4 0M123.2 591a2 2 0 1 0 4 0a2 2 0 1 0-4 0M121.1 593.6a2 2 0 1 0 4 0a2 2 0 1 0-4 0M129 590.3a2 2 0 1 0 4 0a2 2 0 1 0-4 0M132.3 593.9a2 2 0 1 0 4 0a2 2 0 1 0-4 0M138.4 593.2a2 2 0 1 0 4 0a2 2 0 1 0-4 0M141.3 592.7a2 2 0 1 0 4 0a2 2 0 1 0-4 0M136.2 597.9a2 2 0 1 0 4 0a2 2 0 1 0-4 0M138.1 596a2 2 0 1 0 4 0a2 2 0 1 0-4 0M144.4 597a2 2 0 1 0 4 0a2 2 0 1 0-4 0M134.8 602.2a2 2 0 1 0 4 0a2 2 0 1 0-4 0M139.8 603.7a2 2 0 1 0 4 0a2 2 0 1 0-4 0M105.9 605.4a2 2 0 1 0 4 0a2 2 0 1 0-4 0M116.4 606.6a2 2 0 1 0 4 0a2 2 0 1 0-4 0M116.4 610.9a2 2 0 1 0 4 0a2 2 0 1 0-4 0M105.9 610.9a2 2 0 1 0 4 0a2 2 0 1 0-4 0M129.4 609.5a2 2 0 1 0 4 0a2 2 0 1 0-4 0M126.1 613.8a2 2 0 1 0 4 0a2 2 0 1 0-4 0M127.6 616.7a2 2 0 1 0 4 0a2 2 0 1 0-4 0M141.3 610.5a2 2 0 1 0 4 0a2 2 0 1 0-4 0M139.1 615.2a2 2 0 1 0 4 0a2 2 0 1 0-4 0M144.4 607.6a2 2 0 1 0 4 0a2 2 0 1 0-4 0M146.3 608.6a2 2 0 1 0 4 0a2 2 0 1 0-4 0M105.9 619.6a2 2 0 1 0 4 0a2 2 0 1 0-4 0M144.9 626.8a2 2 0 1 0 4 0a2 2 0 1 0-4 0M146.3 632.5a2 2 0 1 0 4 0a2 2 0 1 0-4 0M180.8 581.8a2 2 0 1 0 4 0a2 2 0 1 0-4 0M165.5 585.7a2 2 0 1 0 4 0a2 2 0 1 0-4 0M154.3 588a2 2 0 1 0 4 0a2 2 0 1 0-4 0M158.2 588a2 2 0 1 0 4 0a2 2 0 1 0-4 0M151.6 592.2a2 2 0 1 0 4 0a2 2 0 1 0-4 0M162.8 590.3a2 2 0 1 0 4 0a2 2 0 1 0-4 0M162.8 592.6a2 2 0 1 0 4 0a2 2 0 1 0-4 0M169.3 589.9a2 2 0 1 0 4 0a2 2 0 1 0-4 0M171.6 591.8a2 2 0 1 0 4 0a2 2 0 1 0-4 0M169.3 593.8a2 2 0 1 0 4 0a2 2 0 1 0-4 0M174.7 593.8a2 2 0 1 0 4 0a2 2 0 1 0-4 0M182 591.8a2 2 0 1 0 4 0a2 2 0 1 0-4 0M182 593.8a2 2 0 1 0 4 0a2 2 0 1 0-4 0M163.2 597.2a2 2 0 1 0 4 0a2 2 0 1 0-4 0M167.4 598.4a2 2 0 1 0 4 0a2 2 0 1 0-4 0M154.3 600.3a2 2 0 1 0 4 0a2 2 0 1 0-4 0M156.2 600.7a2 2 0 1 0 4 0a2 2 0 1 0-4 0M182.8 599.2a2 2 0 1 0 4 0a2 2 0 1 0-4 0M161.6 603a2 2 0 1 0 4 0a2 2 0 1 0-4 0M165.5 602.6a2 2 0 1 0 4 0a2 2 0 1 0-4 0M177.8 602.2a2 2 0 1 0 4 0a2 2 0 1 0-4 0M176.2 604.2a2 2 0 1 0 4 0a2 2 0 1 0-4 0M180.1 600.7a2 2 0 1 0 4 0a2 2 0 1 0-4 0M183.9 605.7a2 2 0 1 0 4 0a2 2 0 1 0-4 0M153.5 606.5a2 2 0 1 0 4 0a2 2 0 1 0-4 0M163.5 605.7a2 2 0 1 0 4 0a2 2 0 1 0-4 0M162.8 609.5a2 2 0 1 0 4 0a2 2 0 1 0-4 0M162.8 612.6a2 2 0 1 0 4 0a2 2 0 1 0-4 0M169.3 609.5a2 2 0 1 0 4 0a2 2 0 1 0-4 0M177.8 611.8a2 2 0 1 0 4 0a2 2 0 1 0-4 0M174.7 604.9a2 2 0 1 0 4 0a2 2 0 1 0-4 0M212.5 581.1a2 2 0 1 0 4 0a2 2 0 1 0-4 0M216.3 581.8a2 2 0 1 0 4 0a2 2 0 1 0-4 0M196.3 584.5a2 2 0 1 0 4 0a2 2 0 1 0-4 0M205.9 585.3a2 2 0 1 0 4 0a2 2 0 1 0-4 0M187.1 586.8a2 2 0 1 0 4 0a2 2 0 1 0-4 0M200.2 586.8a2 2 0 1 0 4 0a2 2 0 1 0-4 0M213.2 587.2a2 2 0 1 0 4 0a2 2 0 1 0-4 0M220.2 587.6a2 2 0 1 0 4 0a2 2 0 1 0-4 0M203.2 590.7a2 2 0 1 0 4 0a2 2 0 1 0-4 0M187.1 594.2a2 2 0 1 0 4 0a2 2 0 1 0-4 0M200.2 595.3a2 2 0 1 0 4 0a2 2 0 1 0-4 0M202.8 594.5a2 2 0 1 0 4 0a2 2 0 1 0-4 0M194.4 596.8a2 2 0 1 0 4 0a2 2 0 1 0-4 0M214.8 593.4a2 2 0 1 0 4 0a2 2 0 1 0-4 0M215.5 596.8a2 2 0 1 0 4 0a2 2 0 1 0-4 0M219.4 595.7a2 2 0 1 0 4 0a2 2 0 1 0-4 0M221.7 597.2a2 2 0 1 0 4 0a2 2 0 1 0-4 0M190.2 599.9a2 2 0 1 0 4 0a2 2 0 1 0-4 0M196.7 599.2a2 2 0 1 0 4 0a2 2 0 1 0-4 0M198.2 601.5a2 2 0 1 0 4 0a2 2 0 1 0-4 0M199.4 603.8a2 2 0 1 0 4 0a2 2 0 1 0-4 0M207.1 599.5a2 2 0 1 0 4 0a2 2 0 1 0-4 0M205.2 601.8a2 2 0 1 0 4 0a2 2 0 1 0-4 0M184.8 604.2a2 2 0 1 0 4 0a2 2 0 1 0-4 0M187.8 603.8a2 2 0 1 0 4 0a2 2 0 1 0-4 0M193.6 604.2a2 2 0 1 0 4 0a2 2 0 1 0-4 0M220.9 602.6a2 2 0 1 0 4 0a2 2 0 1 0-4 0M221.7 604.5a2 2 0 1 0 4 0a2 2 0 1 0-4 0M210.5 606.5a2 2 0 1 0 4 0a2 2 0 1 0-4 0M199.4 608.4a2 2 0 1 0 4 0a2 2 0 1 0-4 0M207.1 609.5a2 2 0 1 0 4 0a2 2 0 1 0-4 0M194.8 610.3a2 2 0 1 0 4 0a2 2 0 1 0-4 0M212.5 609.2a2 2 0 1 0 4 0a2 2 0 1 0-4 0M215.2 611.1a2 2 0 1 0 4 0a2 2 0 1 0-4 0M217.8 608.8a2 2 0 1 0 4 0a2 2 0 1 0-4 0M187.5 611.1a2 2 0 1 0 4 0a2 2 0 1 0-4 0M200.2 612.6a2 2 0 1 0 4 0a2 2 0 1 0-4 0M188.2 613.4a2 2 0 1 0 4 0a2 2 0 1 0-4 0M176.6 616.1a2 2 0 1 0 4 0a2 2 0 1 0-4 0M199.6 617.2a2 2 0 1 0 4 0a2 2 0 1 0-4 0M153.7 618.7a2 2 0 1 0 4 0a2 2 0 1 0-4 0M156.2 619.7a2 2 0 1 0 4 0a2 2 0 1 0-4 0M150.3 622.7a2 2 0 1 0 4 0a2 2 0 1 0-4 0M163 625a2 2 0 1 0 4 0a2 2 0 1 0-4 0M175.1 623.1a2 2 0 1 0 4 0a2 2 0 1 0-4 0M178.1 621.2a2 2 0 1 0 4 0a2 2 0 1 0-4 0M176.9 628a2 2 0 1 0 4 0a2 2 0 1 0-4 0M195.9 620.1a2 2 0 1 0 4 0a2 2 0 1 0-4 0M198.6 625.3a2 2 0 1 0 4 0a2 2 0 1 0-4 0M214.9 617.2a2 2 0 1 0 4 0a2 2 0 1 0-4 0M221.8 617.6a2 2 0 1 0 4 0a2 2 0 1 0-4 0M214.9 623.6a2 2 0 1 0 4 0a2 2 0 1 0-4 0M216.6 625a2 2 0 1 0 4 0a2 2 0 1 0-4 0M221.8 627.1a2 2 0 1 0 4 0a2 2 0 1 0-4 0M211.7 630.5a2 2 0 1 0 4 0a2 2 0 1 0-4 0M201.5 633.9a2 2 0 1 0 4 0a2 2 0 1 0-4 0M207 634.5a2 2 0 1 0 4 0a2 2 0 1 0-4 0M179.9 638.4a2 2 0 1 0 4 0a2 2 0 1 0-4 0M238.5 582.5a2 2 0 1 0 4 0a2 2 0 1 0-4 0M242.4 585.3a2 2 0 1 0 4 0a2 2 0 1 0-4 0M236.2 588.8a2 2 0 1 0 4 0a2 2 0 1 0-4 0M230.1 590.3a2 2 0 1 0 4 0a2 2 0 1 0-4 0M233.5 592.6a2 2 0 1 0 4 0a2 2 0 1 0-4 0M253.5 588a2 2 0 1 0 4 0a2 2 0 1 0-4 0M253.5 591.1a2 2 0 1 0 4 0a2 2 0 1 0-4 0M255.1 594.9a2 2 0 1 0 4 0a2 2 0 1 0-4 0M227.4 598.8a2 2 0 1 0 4 0a2 2 0 1 0-4 0M228.9 600.7a2 2 0 1 0 4 0a2 2 0 1 0-4 0M233.2 601.5a2 2 0 1 0 4 0a2 2 0 1 0-4 0M230.1 606.1a2 2 0 1 0 4 0a2 2 0 1 0-4 0M239.3 607.6a2 2 0 1 0 4 0a2 2 0 1 0-4 0M245.5 608a2 2 0 1 0 4 0a2 2 0 1 0-4 0M257.4 601.8a2 2 0 1 0 4 0a2 2 0 1 0-4 0M261.6 602.2a2 2 0 1 0 4 0a2 2 0 1 0-4 0M256.6 608.4a2 2 0 1 0 4 0a2 2 0 1 0-4 0M260.8 611.8a2 2 0 1 0 4 0a2 2 0 1 0-4 0M230.5 613a2 2 0 1 0 4 0a2 2 0 1 0-4 0M245.5 614.2a2 2 0 1 0 4 0a2 2 0 1 0-4 0M280.4 584.5a2 2 0 1 0 4 0a2 2 0 1 0-4 0M266.2 587.2a2 2 0 1 0 4 0a2 2 0 1 0-4 0M263.8 591.5a2 2 0 1 0 4 0a2 2 0 1 0-4 0M274.6 590.3a2 2 0 1 0 4 0a2 2 0 1 0-4 0M273.5 593.4a2 2 0 1 0 4 0a2 2 0 1 0-4 0M280.4 589.9a2 2 0 1 0 4 0a2 2 0 1 0-4 0M291.5 591.8a2 2 0 1 0 4 0a2 2 0 1 0-4 0M291.5 596.5a2 2 0 1 0 4 0a2 2 0 1 0-4 0M275.8 598.2a2 2 0 1 0 4 0a2 2 0 1 0-4 0M270.8 604.9a2 2 0 1 0 4 0a2 2 0 1 0-4 0M276.2 603.4a2 2 0 1 0 4 0a2 2 0 1 0-4 0M280.4 601.5a2 2 0 1 0 4 0a2 2 0 1 0-4 0M282.7 604.5a2 2 0 1 0 4 0a2 2 0 1 0-4 0M285.4 601.8a2 2 0 1 0 4 0a2 2 0 1 0-4 0M263.8 607.2a2 2 0 1 0 4 0a2 2 0 1 0-4 0M296.2 606.1a2 2 0 1 0 4 0a2 2 0 1 0-4 0M286.2 609.9a2 2 0 1 0 4 0a2 2 0 1 0-4 0M288.8 613.8a2 2 0 1 0 4 0a2 2 0 1 0-4 0M299.2 612.2a2 2 0 1 0 4 0a2 2 0 1 0-4 0M262.2 615.7a2 2 0 1 0 4 0a2 2 0 1 0-4 0M224.2 616.4a2 2 0 1 0 4 0a2 2 0 1 0-4 0M228.6 619.6a2 2 0 1 0 4 0a2 2 0 1 0-4 0M235.9 617.1a2 2 0 1 0 4 0a2 2 0 1 0-4 0M235.9 619a2 2 0 1 0 4 0a2 2 0 1 0-4 0M239.3 621.5a2 2 0 1 0 4 0a2 2 0 1 0-4 0M245.4 620a2 2 0 1 0 4 0a2 2 0 1 0-4 0M239.5 626.2a2 2 0 1 0 4 0a2 2 0 1 0-4 0M252 624.4a2 2 0 1 0 4 0a2 2 0 1 0-4 0M246.1 629.5a2 2 0 1 0 4 0a2 2 0 1 0-4 0M267.3 622.2a2 2 0 1 0 4 0a2 2 0 1 0-4 0M271.4 619a2 2 0 1 0 4 0a2 2 0 1 0-4 0M276.4 617.6a2 2 0 1 0 4 0a2 2 0 1 0-4 0M265.1 629.5a2 2 0 1 0 4 0a2 2 0 1 0-4 0M257.4 636.9a2 2 0 1 0 4 0a2 2 0 1 0-4 0M328.5 594.6a2 2 0 1 0 4 0a2 2 0 1 0-4 0M337.1 595.3a2 2 0 1 0 4 0a2 2 0 1 0-4 0M343.5 596a2 2 0 1 0 4 0a2 2 0 1 0-4 0M303.9 600.8a2 2 0 1 0 4 0a2 2 0 1 0-4 0M301 616.2a2 2 0 1 0 4 0a2 2 0 1 0-4 0M314 620.6a2 2 0 1 0 4 0a2 2 0 1 0-4 0M334.8 613.4a2 2 0 1 0 4 0a2 2 0 1 0-4 0M346.8 615.8a2 2 0 1 0 4 0a2 2 0 1 0-4 0M362.2 605.9a2 2 0 1 0 4 0a2 2 0 1 0-4 0M343.2 626.3a2 2 0 1 0 4 0a2 2 0 1 0-4 0M386.2 610.8a2 2 0 1 0 4 0a2 2 0 1 0-4 0M382.4 622.6a2 2 0 1 0 4 0a2 2 0 1 0-4 0M455.4 602.1a2 2 0 1 0 4 0a2 2 0 1 0-4 0" class="d"/>
<line x1="75.2" y1="951.75" x2="516.3" y2="951.75" class="g"/>
<line x1="75.2" y1="889.2" x2="516.3" y2="889.2" class="g"/>
<line x1="75.2" y1="826.65" x2="516.3" y2="826.65" class="g"/>
<line x1="70.4" y1="1014.3" x2="75.2" y2="1014.3" class="a"/>
<text x="65.6" y="1019.8" text-anchor="end" class="t">0</text>
<line x1="70.4" y1="983.02" x2="75.2" y2="983.02" class="a"/>
<text x="65.6" y="988.52" text-anchor="end" class="t">500</text>
<line x1="70.4" y1="951.75" x2="75.2" y2="951.75" class="a"/>
<text x="65.6" y="957.25" text-anchor="end" class="t">1000</text>
<line x1="70.4" y1="920.48" x2="75.2" y2="920.48" class="a"/>
<text x="65.6" y="925.98" text-anchor="end" class="t">1500</text>
<line x1="70.4" y1="889.2" x2="75.2" y2="889.2" class="a"/>
<text x="65.6" y="894.7" text-anchor="end" class="t">2000</text>
<line x1="70.4" y1="857.92" x2="75.2" y2="857.92" class="a"/>
<text x="65.6" y="863.42" text-anchor="end" class="t">2500</text>
<line x1="70.4" y1="826.65" x2="75.2" y2="826.65" class="a"/>
<text x="65.6" y="832.15" text-anchor="end" class="t">3000</text>
<line x1="70.4" y1="795.38" x2="75.2" y2="795.38" class="a"/>
<text x="65.6" y="800.88" text-anchor="end" class="t">3500</text>
<line x1="70.4" y1="764.1" x2="75.2" y2="764.1" class="a"/>
<text x="65.6" y="769.6" text-anchor="end" class="t">4000</text>
<line x1="78.6" y1="1018.9" x2="78.6" y2="1023.9" class="a"/>
<line x1="85.83" y1="1018.9" x2="85.83" y2="1021.9" class="a"/>
<line x1="93.06" y1="1018.9" x2="93.06" y2="1021.9" class="a"/>
<line x1="100.28" y1="1018.9" x2="100.28" y2="1021.9" class="a"/>
<line x1="107.51" y1="1018.9" x2="107.51" y2="1021.9" class="a"/>
<line x1="114.74" y1="1018.9" x2="114.74" y2="1021.9" class="a"/>
<line x1="121.97" y1="1018.9" x2="121.97" y2="1021.9" class="a"/>
<line x1="129.2" y1="1018.9" x2="129.2" y2="1021.9" class="a"/>
<line x1="136.43" y1="1018.9" x2="136.43" y2="1021.9" class="a"/>
<line x1="143.65" y1="1018.9" x2="143.65" y2="1021.9" class="a"/>
<line x1="150.88" y1="1018.9" x2="150.88" y2="1023.9" class="a"/>
<line x1="158.11" y1="1018.9" x2="158.11" y2="1021.9" class="a"/>
<line x1="165.34" y1="1018.9" x2="165.34" y2="1021.9" class="a"/>
<line x1="172.57" y1="1018.9" x2="172.57" y2="1021.9" class="a"/>
<line x1="179.8" y1="1018.9" x2="179.8" y2="1021.9" class="a"/>
<line x1="187.02" y1="1018.9" x2="187.02" y2="1021.9" class="a"/>
<line x1="194.25" y1="1018.9" x2="194.25" y2="1021.9" class="a"/>
<line x1="201.48" y1="1018.9" x2="201.48" y2="1021.9" class="a"/>
<line x1="208.71" y1="1018.9" x2="208.71" y2="1021.9" class="a"/>
<line x1="215.94" y1="1018.9" x2="215.94" y2="1021.9" class="a"/>
<line x1="223.17" y1="1018.9" x2="223.17" y2="1023.9" class="a"/>
<line x1="230.39" y1="1018.9" x2="230.39" y2="1021.9" class="a"/>
<line x1="237.62" y1="1018.9" x2="237.62" y2="1021.9" class="a"/>
<line x1="244.85" y1="1018.9" x2="244.85" y2="1021.9" class="a"/>
<line x1="252.08" y1="1018.9" x2="252.08" y2="1021.9" class="a"/>
<line x1="259.31" y1="1018.9" x2="259.31" y2="1021.9" class="a"/>
<line x1="266.54" y1="1018.9" x2="266.54" y2="1021.9" class="a"/>
<line x1="273.76" y1="1018.9" x2="273.76" y2="1021.9" class="a"/>
<line x1="280.99" y1="1018.9" x2="280.99" y2="1021.9" class="a"/>
<line x1="288.22" y1="1018.9" x2="288.22" y2="1021.9" class="a"/>
<line x1="295.45" y1="1018.9" x2="295.45" y2="1023.9" class="a"/>
<line x1="302.68" y1="1018.9" x2="302.68" y2="1021.9" class="a"/>
<line x1="309.91" y1="1018.9" x2="309.91" y2="1021.9" class="a"/>
<line x1="317.13" y1="1018.9" x2="317.13" y2="1021.9" class="a"/>
<line x1="324.36" y1="1018.9" x2="324.36" y2="1021.9" class="a"/>
<line x1="331.59" y1="1018.9" x2="331.59" y2="1021.9" class="a"/>
<line x1="338.82" y1="1018.9" x2="338.82" y2="1021.9" class="a"/>
<line x1="346.05" y1="1018.9" x2="346.05" y2="1021.9" class="a"/>
<line x1="353.28" y1="1018.9" x2="353.28" y2="1021.9" class="a"/>
<line x1="360.5" y1="1018.9" x2="360.5" y2="1021.9" class="a"/>
<line x1="367.73" y1="1018.9" x2="367.73" y2="1023.9" class="a"/>
<line x1="374.96" y1="1018.9" x2="374.96" y2="1021.9" class="a"/>
<line x1="382.19" y1="1018.9" x2="382.19" y2="1021.9" class="a"/>
<line x1="389.42" y1="1018.9" x2="389.42" y2="1021.9" class="a"/>
<line x1="396.65" y1="1018.9" x2="396.65" y2="1021.9" class="a"/>
<line x1="403.87" y1="1018.9" x2="403.87" y2="1021.9" class="a"/>
<line x1="411.1" y1="1018.9" x2="411.1" y2="1021.9" class="a"/>
<line x1="418.33" y1="1018.9" x2="418.33" y2="1021.9" class="a"/>
<line x1="425.56" y1="1018.9" x2="425.56" y2="1021.9" class="a"/>
<line x1="432.79" y1="1018.9" x2="432.79" y2="1021.9" class="a"/>
<line x1="440.02" y1="1018.9" x2="440.02" y2="1023.9" class="a"/>
<line x1="447.24" y1="1018.9" x2="447.24" y2="1021.9" class="a"/>
<line x1="454.47" y1="1018.9" x2="454.47" y2="1021.9" class="a"/>
<line x1="461.7" y1="1018.9" x2="461.7" y2="1021.9" class="a"/>
<line x1="468.93" y1="1018.9" x2="468.93" y2="1021.9" class="a"/>
<line x1="476.16" y1="1018.9" x2="476.16" y2="1021.9" class="a"/>
<line x1="483.39" y1="1018.9" x2="483.39" y2="1021.9" class="a"/>
<line x1="490.62" y1="1018.9" x2="490.62" y2="1021.9" class="a"/>
<line x1="497.84" y1="1018.9" x2="497.84" y2="1021.9" class="a"/>
<line x1="505.07" y1="1018.9" x2="505.07" y2="1021.9" class="a"/>
<line x1="512.3" y1="1018.9" x2="512.3" y2="1023.9" class="a"/>
<text x="78.6" y="1041.4" text-anchor="middle" class="t">10</text>
<text x="150.88" y="1041.4" text-anchor="middle" class="t">20</text>
<text x="223.17" y="1041.4" text-anchor="middle" class="t">30</text>
<text x="295.45" y="1041.4" text-anchor="middle" class="t">40</text>
<text x="367.73" y="1041.4" text-anchor="middle" class="t">50</text>
<text x="440.02" y="1041.4" text-anchor="middle" class="t">60</text>
<text x="512.3" y="1041.4" text-anchor="middle" class="t">70</text>
<rect x="75.2" y="759.6" width="441.1" height="259.3" class="a" fill="none"/>
<text x="295.75" y="1066.5" text-anchor="middle">Age (Years) at Baseline</text>
<text transform="translate(11,890) rotate(-90)" text-anchor="middle">Imatinib Trough Level (ng/mL)</text>
<text x="-1.3" y="750" class="L" style="font-size:25.5px">C</text>
<line x1="78.7" y1="966.9" x2="513.6" y2="944.8" class="r"/>
<path d="M134.44 961.8a2 2 0 1 0 4 0a2 2 0 1 0-4 0M141.67 957.3a2 2 0 1 0 4 0a2 2 0 1 0-4 0M141.67 963.8a2 2 0 1 0 4 0a2 2 0 1 0-4 0M148.9 960.2a2 2 0 1 0 4 0a2 2 0 1 0-4 0M156.13 918.6a2 2 0 1 0 4 0a2 2 0 1 0-4 0M156.13 934.5a2 2 0 1 0 4 0a2 2 0 1 0-4 0M163.36 940.3a2 2 0 1 0 4 0a2 2 0 1 0-4 0M163.36 951.9a2 2 0 1 0 4 0a2 2 0 1 0-4 0M170.59 934.5a2 2 0 1 0 4 0a2 2 0 1 0-4 0M170.59 956.3a2 2 0 1 0 4 0a2 2 0 1 0-4 0M170.59 988.6a2 2 0 1 0 4 0a2 2 0 1 0-4 0M177.82 947.5a2 2 0 1 0 4 0a2 2 0 1 0-4 0M177.82 979.3a2 2 0 1 0 4 0a2 2 0 1 0-4 0M185.05 924.8a2 2 0 1 0 4 0a2 2 0 1 0-4 0M185.05 928.1a2 2 0 1 0 4 0a2 2 0 1 0-4 0M185.05 944.3a2 2 0 1 0 4 0a2 2 0 1 0-4 0M185.05 959.4a2 2 0 1 0 4 0a2 2 0 1 0-4 0M192.28 918.6a2 2 0 1 0 4 0a2 2 0 1 0-4 0M192.28 932a2 2 0 1 0 4 0a2 2 0 1 0-4 0M192.28 963.8a2 2 0 1 0 4 0a2 2 0 1 0-4 0M192.28 971.3a2 2 0 1 0 4 0a2 2 0 1 0-4 0M192.28 976.7a2 2 0 1 0 4 0a2 2 0 1 0-4 0M199.51 932.7a2 2 0 1 0 4 0a2 2 0 1 0-4 0M199.51 948.3a2 2 0 1 0 4 0a2 2 0 1 0-4 0M199.51 976a2 2 0 1 0 4 0a2 2 0 1 0-4 0M199.51 977.9a2 2 0 1 0 4 0a2 2 0 1 0-4 0M206.74 931.3a2 2 0 1 0 4 0a2 2 0 1 0-4 0M206.74 938.8a2 2 0 1 0 4 0a2 2 0 1 0-4 0M206.74 947.9a2 2 0 1 0 4 0a2 2 0 1 0-4 0M206.74 956.5a2 2 0 1 0 4 0a2 2 0 1 0-4 0M206.74 958.3a2 2 0 1 0 4 0a2 2 0 1 0-4 0M206.74 979.3a2 2 0 1 0 4 0a2 2 0 1 0-4 0M206.74 985.4a2 2 0 1 0 4 0a2 2 0 1 0-4 0M213.97 941.1a2 2 0 1 0 4 0a2 2 0 1 0-4 0M213.97 953.7a2 2 0 1 0 4 0a2 2 0 1 0-4 0M213.97 965.6a2 2 0 1 0 4 0a2 2 0 1 0-4 0M213.97 967.8a2 2 0 1 0 4 0a2 2 0 1 0-4 0M221.2 927.2a2 2 0 1 0 4 0a2 2 0 1 0-4 0M221.2 945.7a2 2 0 1 0 4 0a2 2 0 1 0-4 0M221.2 977.5a2 2 0 1 0 4 0a2 2 0 1 0-4 0M221.2 982.2a2 2 0 1 0 4 0a2 2 0 1 0-4 0M228.43 949.8a2 2 0 1 0 4 0a2 2 0 1 0-4 0M228.43 967.4a2 2 0 1 0 4 0a2 2 0 1 0-4 0M228.43 973.6a2 2 0 1 0 4 0a2 2 0 1 0-4 0M228.43 976a2 2 0 1 0 4 0a2 2 0 1 0-4 0M235.66 830a2 2 0 1 0 4 0a2 2 0 1 0-4 0M235.66 960.6a2 2 0 1 0 4 0a2 2 0 1 0-4 0M235.66 971.4a2 2 0 1 0 4 0a2 2 0 1 0-4 0M235.66 975a2 2 0 1 0 4 0a2 2 0 1 0-4 0M235.66 986.1a2 2 0 1 0 4 0a2 2 0 1 0-4 0M242.89 963a2 2 0 1 0 4 0a2 2 0 1 0-4 0M242.89 977.9a2 2 0 1 0 4 0a2 2 0 1 0-4 0M242.89 993.8a2 2 0 1 0 4 0a2 2 0 1 0-4 0M250.12 945.7a2 2 0 1 0 4 0a2 2 0 1 0-4 0M250.12 967.4a2 2 0 1 0 4 0a2 2 0 1 0-4 0M250.12 969.5a2 2 0 1 0 4 0a2 2 0 1 0-4 0M250.12 990.9a2 2 0 1 0 4 0a2 2 0 1 0-4 0M257.35 922.3a2 2 0 1 0 4 0a2 2 0 1 0-4 0M257.35 956.3a2 2 0 1 0 4 0a2 2 0 1 0-4 0M257.35 974.1a2 2 0 1 0 4 0a2 2 0 1 0-4 0M264.58 936.3a2 2 0 1 0 4 0a2 2 0 1 0-4 0M264.58 943.1a2 2 0 1 0 4 0a2 2 0 1 0-4 0M264.58 960.2a2 2 0 1 0 4 0a2 2 0 1 0-4 0M264.58 968.1a2 2 0 1 0 4 0a2 2 0 1 0-4 0M264.58 972.1a2 2 0 1 0 4 0a2 2 0 1 0-4 0M271.81 918.6a2 2 0 1 0 4 0a2 2 0 1 0-4 0M271.81 932.7a2 2 0 1 0 4 0a2 2 0 1 0-4 0M271.81 943.1a2 2 0 1 0 4 0a2 2 0 1 0-4 0M271.81 953.7a2 2 0 1 0 4 0a2 2 0 1 0-4 0M271.81 963a2 2 0 1 0 4 0a2 2 0 1 0-4 0M271.81 967.4a2 2 0 1 0 4 0a2 2 0 1 0-4 0M271.81 969.8a2 2 0 1 0 4 0a2 2 0 1 0-4 0M279.04 922.9a2 2 0 1 0 4 0a2 2 0 1 0-4 0M279.04 945.7a2 2 0 1 0 4 0a2 2 0 1 0-4 0M279.04 959.1a2 2 0 1 0 4 0a2 2 0 1 0-4 0M279.04 967.4a2 2 0 1 0 4 0a2 2 0 1 0-4 0M279.04 983.2a2 2 0 1 0 4 0a2 2 0 1 0-4 0M286.27 949.8a2 2 0 1 0 4 0a2 2 0 1 0-4 0M286.27 960.2a2 2 0 1 0 4 0a2 2 0 1 0-4 0M286.27 962a2 2 0 1 0 4 0a2 2 0 1 0-4 0M286.27 968.8a2 2 0 1 0 4 0a2 2 0 1 0-4 0M286.27 973.1a2 2 0 1 0 4 0a2 2 0 1 0-4 0M286.27 975.3a2 2 0 1 0 4 0a2 2 0 1 0-4 0M293.5 949.8a2 2 0 1 0 4 0a2 2 0 1 0-4 0M293.5 951.1a2 2 0 1 0 4 0a2 2 0 1 0-4 0M293.5 960.2a2 2 0 1 0 4 0a2 2 0 1 0-4 0M293.5 975a2 2 0 1 0 4 0a2 2 0 1 0-4 0M293.5 984.7a2 2 0 1 0 4 0a2 2 0 1 0-4 0M293.5 1000.1a2 2 0 1 0 4 0a2 2 0 1 0-4 0M300.73 922.9a2 2 0 1 0 4 0a2 2 0 1 0-4 0M300.73 947.2a2 2 0 1 0 4 0a2 2 0 1 0-4 0M300.73 958.7a2 2 0 1 0 4 0a2 2 0 1 0-4 0M300.73 964.9a2 2 0 1 0 4 0a2 2 0 1 0-4 0M300.73 986.5a2 2 0 1 0 4 0a2 2 0 1 0-4 0M300.73 989a2 2 0 1 0 4 0a2 2 0 1 0-4 0M307.96 941.4a2 2 0 1 0 4 0a2 2 0 1 0-4 0M307.96 949.8a2 2 0 1 0 4 0a2 2 0 1 0-4 0M307.96 957.3a2 2 0 1 0 4 0a2 2 0 1 0-4 0M307.96 964.5a2 2 0 1 0 4 0a2 2 0 1 0-4 0M307.96 986.6a2 2 0 1 0 4 0a2 2 0 1 0-4 0M315.19 943.6a2 2 0 1 0 4 0a2 2 0 1 0-4 0M315.19 948.3a2 2 0 1 0 4 0a2 2 0 1 0-4 0M315.19 958.7a2 2 0 1 0 4 0a2 2 0 1 0-4 0M315.19 961.2a2 2 0 1 0 4 0a2 2 0 1 0-4 0M315.19 968.1a2 2 0 1 0 4 0a2 2 0 1 0-4 0M315.19 970.7a2 2 0 1 0 4 0a2 2 0 1 0-4 0M315.19 974.6a2 2 0 1 0 4 0a2 2 0 1 0-4 0M315.19 977a2 2 0 1 0 4 0a2 2 0 1 0-4 0M315.19 978.9a2 2 0 1 0 4 0a2 2 0 1 0-4 0M315.19 987.6a2 2 0 1 0 4 0a2 2 0 1 0-4 0M322.42 769.7a2 2 0 1 0 4 0a2 2 0 1 0-4 0M322.42 946.9a2 2 0 1 0 4 0a2 2 0 1 0-4 0M322.42 961.6a2 2 0 1 0 4 0a2 2 0 1 0-4 0M322.42 968.1a2 2 0 1 0 4 0a2 2 0 1 0-4 0M322.42 971.7a2 2 0 1 0 4 0a2 2 0 1 0-4 0M322.42 976a2 2 0 1 0 4 0a2 2 0 1 0-4 0M322.42 977.5a2 2 0 1 0 4 0a2 2 0 1 0-4 0M322.42 995.8a2 2 0 1 0 4 0a2 2 0 1 0-4 0M329.65 869.6a2 2 0 1 0 4 0a2 2 0 1 0-4 0M329.65 946a2 2 0 1 0 4 0a2 2 0 1 0-4 0M329.65 948.6a2 2 0 1 0 4 0a2 2 0 1 0-4 0M329.65 960.2a2 2 0 1 0 4 0a2 2 0 1 0-4 0M329.65 971a2 2 0 1 0 4 0a2 2 0 1 0-4 0M329.65 979.3a2 2 0 1 0 4 0a2 2 0 1 0-4 0M329.65 1004.9a2 2 0 1 0 4 0a2 2 0 1 0-4 0M336.88 933.5a2 2 0 1 0 4 0a2 2 0 1 0-4 0M336.88 940.7a2 2 0 1 0 4 0a2 2 0 1 0-4 0M336.88 965.2a2 2 0 1 0 4 0a2 2 0 1 0-4 0M336.88 975.6a2 2 0 1 0 4 0a2 2 0 1 0-4 0M336.88 981.8a2 2 0 1 0 4 0a2 2 0 1 0-4 0M336.88 989.7a2 2 0 1 0 4 0a2 2 0 1 0-4 0M336.88 991.9a2 2 0 1 0 4 0a2 2 0 1 0-4 0M344.11 941.4a2 2 0 1 0 4 0a2 2 0 1 0-4 0M344.11 957.3a2 2 0 1 0 4 0a2 2 0 1 0-4 0M344.11 959.4a2 2 0 1 0 4 0a2 2 0 1 0-4 0M344.11 964.5a2 2 0 1 0 4 0a2 2 0 1 0-4 0M344.11 969.5a2 2 0 1 0 4 0a2 2 0 1 0-4 0M344.11 971.7a2 2 0 1 0 4 0a2 2 0 1 0-4 0M344.11 979.6a2 2 0 1 0 4 0a2 2 0 1 0-4 0M344.11 983.7a2 2 0 1 0 4 0a2 2 0 1 0-4 0M344.11 986.1a2 2 0 1 0 4 0a2 2 0 1 0-4 0M344.11 990.5a2 2 0 1 0 4 0a2 2 0 1 0-4 0M351.34 897.8a2 2 0 1 0 4 0a2 2 0 1 0-4 0M351.34 923.4a2 2 0 1 0 4 0a2 2 0 1 0-4 0M351.34 944.3a2 2 0 1 0 4 0a2 2 0 1 0-4 0M351.34 965.9a2 2 0 1 0 4 0a2 2 0 1 0-4 0M351.34 979.6a2 2 0 1 0 4 0a2 2 0 1 0-4 0M351.34 982.8a2 2 0 1 0 4 0a2 2 0 1 0-4 0M358.57 936.3a2 2 0 1 0 4 0a2 2 0 1 0-4 0M358.57 954.4a2 2 0 1 0 4 0a2 2 0 1 0-4 0M358.57 966.6a2 2 0 1 0 4 0a2 2 0 1 0-4 0M358.57 972.4a2 2 0 1 0 4 0a2 2 0 1 0-4 0M358.57 977a2 2 0 1 0 4 0a2 2 0 1 0-4 0M358.57 984.7a2 2 0 1 0 4 0a2 2 0 1 0-4 0M358.57 1000.6a2 2 0 1 0 4 0a2 2 0 1 0-4 0M358.57 1003.4a2 2 0 1 0 4 0a2 2 0 1 0-4 0M365.8 920.5a2 2 0 1 0 4 0a2 2 0 1 0-4 0M365.8 927.2a2 2 0 1 0 4 0a2 2 0 1 0-4 0M365.8 932.5a2 2 0 1 0 4 0a2 2 0 1 0-4 0M365.8 937.8a2 2 0 1 0 4 0a2 2 0 1 0-4 0M365.8 943.1a2 2 0 1 0 4 0a2 2 0 1 0-4 0M365.8 955.5a2 2 0 1 0 4 0a2 2 0 1 0-4 0M365.8 962a2 2 0 1 0 4 0a2 2 0 1 0-4 0M365.8 965.5a2 2 0 1 0 4 0a2 2 0 1 0-4 0M365.8 969a2 2 0 1 0 4 0a2 2 0 1 0-4 0M365.8 979.3a2 2 0 1 0 4 0a2 2 0 1 0-4 0M365.8 983.7a2 2 0 1 0 4 0a2 2 0 1 0-4 0M373.03 914.3a2 2 0 1 0 4 0a2 2 0 1 0-4 0M373.03 945a2 2 0 1 0 4 0a2 2 0 1 0-4 0M373.03 953.7a2 2 0 1 0 4 0a2 2 0 1 0-4 0M373.03 985.4a2 2 0 1 0 4 0a2 2 0 1 0-4 0M373.03 988a2 2 0 1 0 4 0a2 2 0 1 0-4 0M380.26 901.3a2 2 0 1 0 4 0a2 2 0 1 0-4 0M380.26 912.2a2 2 0 1 0 4 0a2 2 0 1 0-4 0M380.26 932a2 2 0 1 0 4 0a2 2 0 1 0-4 0M380.26 938.2a2 2 0 1 0 4 0a2 2 0 1 0-4 0M380.26 971.7a2 2 0 1 0 4 0a2 2 0 1 0-4 0M380.26 974.6a2 2 0 1 0 4 0a2 2 0 1 0-4 0M380.26 982.2a2 2 0 1 0 4 0a2 2 0 1 0-4 0M380.26 995.8a2 2 0 1 0 4 0a2 2 0 1 0-4 0M387.49 867.5a2 2 0 1 0 4 0a2 2 0 1 0-4 0M387.49 885.5a2 2 0 1 0 4 0a2 2 0 1 0-4 0M387.49 903a2 2 0 1 0 4 0a2 2 0 1 0-4 0M387.49 933.9a2 2 0 1 0 4 0a2 2 0 1 0-4 0M387.49 944.3a2 2 0 1 0 4 0a2 2 0 1 0-4 0M387.49 946.9a2 2 0 1 0 4 0a2 2 0 1 0-4 0M387.49 952.9a2 2 0 1 0 4 0a2 2 0 1 0-4 0M387.49 957.7a2 2 0 1 0 4 0a2 2 0 1 0-4 0M387.49 959.4a2 2 0 1 0 4 0a2 2 0 1 0-4 0M387.49 962.6a2 2 0 1 0 4 0a2 2 0 1 0-4 0M387.49 967.4a2 2 0 1 0 4 0a2 2 0 1 0-4 0M387.49 975a2 2 0 1 0 4 0a2 2 0 1 0-4 0M387.49 983.7a2 2 0 1 0 4 0a2 2 0 1 0-4 0M387.49 996.7a2 2 0 1 0 4 0a2 2 0 1 0-4 0M387.49 999.1a2 2 0 1 0 4 0a2 2 0 1 0-4 0M394.72 779.1a2 2 0 1 0 4 0a2 2 0 1 0-4 0M394.72 833.6a2 2 0 1 0 4 0a2 2 0 1 0-4 0M394.72 870.7a2 2 0 1 0 4 0a2 2 0 1 0-4 0M394.72 873.2a2 2 0 1 0 4 0a2 2 0 1 0-4 0M394.72 921.5a2 2 0 1 0 4 0a2 2 0 1 0-4 0M394.72 927.2a2 2 0 1 0 4 0a2 2 0 1 0-4 0M394.72 952.9a2 2 0 1 0 4 0a2 2 0 1 0-4 0M394.72 955.1a2 2 0 1 0 4 0a2 2 0 1 0-4 0M394.72 958a2 2 0 1 0 4 0a2 2 0 1 0-4 0M394.72 959.4a2 2 0 1 0 4 0a2 2 0 1 0-4 0M394.72 963a2 2 0 1 0 4 0a2 2 0 1 0-4 0M394.72 979.6a2 2 0 1 0 4 0a2 2 0 1 0-4 0M394.72 981.8a2 2 0 1 0 4 0a2 2 0 1 0-4 0M394.72 994.4a2 2 0 1 0 4 0a2 2 0 1 0-4 0M401.95 895.5a2 2 0 1 0 4 0a2 2 0 1 0-4 0M401.95 922.3a2 2 0 1 0 4 0a2 2 0 1 0-4 0M401.95 936.3a2 2 0 1 0 4 0a2 2 0 1 0-4 0M401.95 943.1a2 2 0 1 0 4 0a2 2 0 1 0-4 0M401.95 952.9a2 2 0 1 0 4 0a2 2 0 1 0-4 0M401.95 955.1a2 2 0 1 0 4 0a2 2 0 1 0-4 0M401.95 970.7a2 2 0 1 0 4 0a2 2 0 1 0-4 0M401.95 979.6a2 2 0 1 0 4 0a2 2 0 1 0-4 0M401.95 983.7a2 2 0 1 0 4 0a2 2 0 1 0-4 0M401.95 991.5a2 2 0 1 0 4 0a2 2 0 1 0-4 0M409.18 926.2a2 2 0 1 0 4 0a2 2 0 1 0-4 0M409.18 938.5a2 2 0 1 0 4 0a2 2 0 1 0-4 0M409.18 941.1a2 2 0 1 0 4 0a2 2 0 1 0-4 0M409.18 954.8a2 2 0 1 0 4 0a2 2 0 1 0-4 0M409.18 961.2a2 2 0 1 0 4 0a2 2 0 1 0-4 0M409.18 970.7a2 2 0 1 0 4 0a2 2 0 1 0-4 0M409.18 976.5a2 2 0 1 0 4 0a2 2 0 1 0-4 0M409.18 985.1a2 2 0 1 0 4 0a2 2 0 1 0-4 0M416.41 879.3a2 2 0 1 0 4 0a2 2 0 1 0-4 0M416.41 927.7a2 2 0 1 0 4 0a2 2 0 1 0-4 0M416.41 936.3a2 2 0 1 0 4 0a2 2 0 1 0-4 0M416.41 941.1a2 2 0 1 0 4 0a2 2 0 1 0-4 0M416.41 943.6a2 2 0 1 0 4 0a2 2 0 1 0-4 0M416.41 946.4a2 2 0 1 0 4 0a2 2 0 1 0-4 0M416.41 970.7a2 2 0 1 0 4 0a2 2 0 1 0-4 0M416.41 973.1a2 2 0 1 0 4 0a2 2 0 1 0-4 0M416.41 976a2 2 0 1 0 4 0a2 2 0 1 0-4 0M416.41 978.9a2 2 0 1 0 4 0a2 2 0 1 0-4 0M416.41 992.3a2 2 0 1 0 4 0a2 2 0 1 0-4 0M423.64 860.3a2 2 0 1 0 4 0a2 2 0 1 0-4 0M423.64 924.4a2 2 0 1 0 4 0a2 2 0 1 0-4 0M423.64 934.2a2 2 0 1 0 4 0a2 2 0 1 0-4 0M423.64 935.6a2 2 0 1 0 4 0a2 2 0 1 0-4 0M423.64 959.4a2 2 0 1 0 4 0a2 2 0 1 0-4 0M423.64 962.6a2 2 0 1 0 4 0a2 2 0 1 0-4 0M423.64 966a2 2 0 1 0 4 0a2 2 0 1 0-4 0M423.64 969.5a2 2 0 1 0 4 0a2 2 0 1 0-4 0M423.64 973a2 2 0 1 0 4 0a2 2 0 1 0-4 0M423.64 976.5a2 2 0 1 0 4 0a2 2 0 1 0-4 0M423.64 988.3a2 2 0 1 0 4 0a2 2 0 1 0-4 0M430.87 953.7a2 2 0 1 0 4 0a2 2 0 1 0-4 0M430.87 976a2 2 0 1 0 4 0a2 2 0 1 0-4 0M430.87 983.2a2 2 0 1 0 4 0a2 2 0 1 0-4 0M430.87 991.2a2 2 0 1 0 4 0a2 2 0 1 0-4 0M438.1 882.9a2 2 0 1 0 4 0a2 2 0 1 0-4 0M438.1 884.8a2 2 0 1 0 4 0a2 2 0 1 0-4 0M438.1 912.3a2 2 0 1 0 4 0a2 2 0 1 0-4 0M438.1 928.6a2 2 0 1 0 4 0a2 2 0 1 0-4 0M438.1 945a2 2 0 1 0 4 0a2 2 0 1 0-4 0M438.1 959.8a2 2 0 1 0 4 0a2 2 0 1 0-4 0M438.1 964.5a2 2 0 1 0 4 0a2 2 0 1 0-4 0M438.1 978a2 2 0 1 0 4 0a2 2 0 1 0-4 0M438.1 982.4a2 2 0 1 0 4 0a2 2 0 1 0-4 0M445.33 909.1a2 2 0 1 0 4 0a2 2 0 1 0-4 0M445.33 932.5a2 2 0 1 0 4 0a2 2 0 1 0-4 0M445.33 947.3a2 2 0 1 0 4 0a2 2 0 1 0-4 0M445.33 950.9a2 2 0 1 0 4 0a2 2 0 1 0-4 0M445.33 960.9a2 2 0 1 0 4 0a2 2 0 1 0-4 0M445.33 969.9a2 2 0 1 0 4 0a2 2 0 1 0-4 0M445.33 972.7a2 2 0 1 0 4 0a2 2 0 1 0-4 0M445.33 978a2 2 0 1 0 4 0a2 2 0 1 0-4 0M452.56 872.3a2 2 0 1 0 4 0a2 2 0 1 0-4 0M452.56 926.3a2 2 0 1 0 4 0a2 2 0 1 0-4 0M452.56 940.8a2 2 0 1 0 4 0a2 2 0 1 0-4 0M452.56 948.1a2 2 0 1 0 4 0a2 2 0 1 0-4 0M452.56 967.6a2 2 0 1 0 4 0a2 2 0 1 0-4 0M452.56 972.3a2 2 0 1 0 4 0a2 2 0 1 0-4 0M452.56 993a2 2 0 1 0 4 0a2 2 0 1 0-4 0M459.79 934.5a2 2 0 1 0 4 0a2 2 0 1 0-4 0M459.79 936.1a2 2 0 1 0 4 0a2 2 0 1 0-4 0M459.79 948.9a2 2 0 1 0 4 0a2 2 0 1 0-4 0M459.79 952.8a2 2 0 1 0 4 0a2 2 0 1 0-4 0M459.79 969.9a2 2 0 1 0 4 0a2 2 0 1 0-4 0M459.79 973a2 2 0 1 0 4 0a2 2 0 1 0-4 0M467.02 789.7a2 2 0 1 0 4 0a2 2 0 1 0-4 0M467.02 858a2 2 0 1 0 4 0a2 2 0 1 0-4 0M467.02 917.4a2 2 0 1 0 4 0a2 2 0 1 0-4 0M467.02 945a2 2 0 1 0 4 0a2 2 0 1 0-4 0M467.02 956.7a2 2 0 1 0 4 0a2 2 0 1 0-4 0M467.02 960.3a2 2 0 1 0 4 0a2 2 0 1 0-4 0M467.02 981.1a2 2 0 1 0 4 0a2 2 0 1 0-4 0M474.25 888.6a2 2 0 1 0 4 0a2 2 0 1 0-4 0M474.25 915.4a2 2 0 1 0 4 0a2 2 0 1 0-4 0M474.25 939.8a2 2 0 1 0 4 0a2 2 0 1 0-4 0M474.25 946.6a2 2 0 1 0 4 0a2 2 0 1 0-4 0M481.48 856.5a2 2 0 1 0 4 0a2 2 0 1 0-4 0M481.48 952a2 2 0 1 0 4 0a2 2 0 1 0-4 0M481.48 959.3a2 2 0 1 0 4 0a2 2 0 1 0-4 0M481.48 968.7a2 2 0 1 0 4 0a2 2 0 1 0-4 0M481.48 975.4a2 2 0 1 0 4 0a2 2 0 1 0-4 0M488.71 936.1a2 2 0 1 0 4 0a2 2 0 1 0-4 0M488.71 951.2a2 2 0 1 0 4 0a2 2 0 1 0-4 0M488.71 968.7a2 2 0 1 0 4 0a2 2 0 1 0-4 0M495.94 907.6a2 2 0 1 0 4 0a2 2 0 1 0-4 0M495.94 925.5a2 2 0 1 0 4 0a2 2 0 1 0-4 0M495.94 931.7a2 2 0 1 0 4 0a2 2 0 1 0-4 0M495.94 945.8a2 2 0 1 0 4 0a2 2 0 1 0-4 0M495.94 956.2a2 2 0 1 0 4 0a2 2 0 1 0-4 0M495.94 968.7a2 2 0 1 0 4 0a2 2 0 1 0-4 0M495.94 970.2a2 2 0 1 0 4 0a2 2 0 1 0-4 0M495.94 983.6a2 2 0 1 0 4 0a2 2 0 1 0-4 0M503.17 812.5a2 2 0 1 0 4 0a2 2 0 1 0-4 0M503.17 937.6a2 2 0 1 0 4 0a2 2 0 1 0-4 0M503.17 964.5a2 2 0 1 0 4 0a2 2 0 1 0-4 0M503.17 976.2a2 2 0 1 0 4 0a2 2 0 1 0-4 0M510.4 927.1a2 2 0 1 0 4 0a2 2 0 1 0-4 0M510.4 952a2 2 0 1 0 4 0a2 2 0 1 0-4 0" class="d"/>
</svg>
</body></html>
